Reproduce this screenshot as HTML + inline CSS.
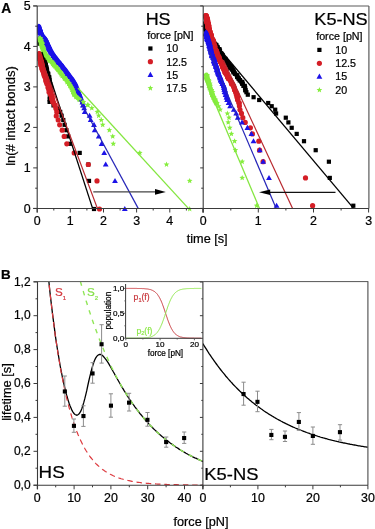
<!DOCTYPE html><html><head><meta charset="utf-8"><title>fig</title><style>html,body{margin:0;padding:0;background:#fff;overflow:hidden}svg{display:block;will-change:transform}text{font-family:"Liberation Sans",sans-serif;stroke:currentColor;stroke-width:0.22px}</style></head><body>
<svg width="375" height="529" viewBox="0 0 375 529">
<rect width="375" height="529" fill="#fff"/>
<defs>
<rect id="sq" x="-2.1" y="-2.1" width="4.2" height="4.2" fill="#000"/>
<circle id="ci" r="2.6" fill="#d41e26"/>
<polygon id="tr" points="0,-3 2.9,2.1 -2.9,2.1" fill="#1c12e8"/>
<polygon id="st" points="0.00,-3.00 0.79,-1.09 2.85,-0.93 1.28,0.42 1.76,2.43 0.00,1.35 -1.76,2.43 -1.28,0.42 -2.85,-0.93 -0.79,-1.09" fill="#86ee3e"/>
<clipPath id="cA1"><rect x="37.2" y="6" width="166" height="202.4"/></clipPath>
<clipPath id="cA2"><rect x="203.2" y="6" width="165" height="202.4"/></clipPath>
<clipPath id="cB1"><rect x="37.3" y="282" width="165.6" height="203.2"/></clipPath>
<clipPath id="cB2"><rect x="202.9" y="282" width="165" height="203.2"/></clipPath>
<clipPath id="cA1d"><rect x="37.2" y="0" width="166" height="212"/></clipPath>
<clipPath id="cA2d"><rect x="203.2" y="0" width="166" height="212"/></clipPath>
</defs>
<g clip-path="url(#cA1d)">
<use href="#sq" x="38.3" y="40.6"/>
<use href="#sq" x="38.2" y="42.2"/>
<use href="#sq" x="38" y="43.6"/>
<use href="#sq" x="40.6" y="54"/>
<use href="#sq" x="41.4" y="54.9"/>
<use href="#sq" x="42.1" y="55.5"/>
<use href="#sq" x="42" y="56.9"/>
<use href="#sq" x="42.8" y="57.5"/>
<use href="#sq" x="44.1" y="58.6"/>
<use href="#sq" x="44.5" y="59.6"/>
<use href="#sq" x="44.7" y="60.4"/>
<use href="#sq" x="44.9" y="61.9"/>
<use href="#sq" x="45.1" y="62.9"/>
<use href="#sq" x="45.5" y="63.6"/>
<use href="#sq" x="45.9" y="65.1"/>
<use href="#sq" x="45.7" y="65.9"/>
<use href="#sq" x="46.5" y="67.4"/>
<use href="#sq" x="46.7" y="68.9"/>
<use href="#sq" x="47" y="70.2"/>
<use href="#sq" x="47" y="71.4"/>
<use href="#sq" x="47.5" y="72.9"/>
<use href="#sq" x="48.3" y="73.8"/>
<use href="#sq" x="48" y="75.3"/>
<use href="#sq" x="49.2" y="77"/>
<use href="#sq" x="49.2" y="78.5"/>
<use href="#sq" x="49.5" y="80.2"/>
<use href="#sq" x="49.7" y="82.1"/>
<use href="#sq" x="50.2" y="84.1"/>
<use href="#sq" x="50.7" y="86"/>
<use href="#sq" x="51.2" y="88"/>
<use href="#sq" x="51.3" y="89.5"/>
<use href="#sq" x="51" y="92.2"/>
<use href="#sq" x="50.5" y="94.3"/>
<use href="#sq" x="49.8" y="96.5"/>
<use href="#sq" x="49.7" y="99.4"/>
<use href="#sq" x="49.6" y="101.9"/>
<use href="#sq" x="53.5" y="105.4"/>
<use href="#sq" x="58.1" y="108.5"/>
<use href="#sq" x="60.2" y="111.9"/>
<use href="#sq" x="61.6" y="115.7"/>
<use href="#sq" x="63.3" y="120"/>
<use href="#sq" x="64.6" y="124.8"/>
<use href="#sq" x="66.4" y="130.2"/>
<use href="#sq" x="68.2" y="136.4"/>
<use href="#sq" x="70.2" y="143.8"/>
<use href="#sq" x="79.7" y="152.9"/>
<use href="#sq" x="88.3" y="164.5"/>
<use href="#sq" x="89" y="180.9"/>
<use href="#sq" x="94" y="209"/>
<polyline points="39.4,53.9 39.6,55.0 40.4,60.0 41.6,65.0 43.0,70.0 44.6,75.0 46.0,80.0 47.8,85.0 49.4,90.0 50.8,95.0 52.4,100.0 53.2,102.1" fill="none" stroke="#d41e26" stroke-width="4.8" stroke-linejoin="round" stroke-linecap="round"/>
<use href="#ci" x="39.2" y="53.7"/>
<use href="#ci" x="39" y="54.1"/>
<use href="#ci" x="40.2" y="54.6"/>
<use href="#ci" x="39.8" y="54.6"/>
<use href="#ci" x="40.1" y="55.6"/>
<use href="#ci" x="40.4" y="56"/>
<use href="#ci" x="39.9" y="57"/>
<use href="#ci" x="39.5" y="56.4"/>
<use href="#ci" x="40.2" y="57.3"/>
<use href="#ci" x="39.5" y="57.6"/>
<use href="#ci" x="40.4" y="58.4"/>
<use href="#ci" x="39.4" y="58.8"/>
<use href="#ci" x="40" y="59.9"/>
<use href="#ci" x="41.1" y="59.5"/>
<use href="#ci" x="40.5" y="60.6"/>
<use href="#ci" x="40.8" y="60.7"/>
<use href="#ci" x="40.9" y="61.7"/>
<use href="#ci" x="41.6" y="61.7"/>
<use href="#ci" x="40.9" y="62.9"/>
<use href="#ci" x="40.6" y="62.6"/>
<use href="#ci" x="42.2" y="63.9"/>
<use href="#ci" x="41.4" y="63.6"/>
<use href="#ci" x="41.4" y="65.1"/>
<use href="#ci" x="40.7" y="65.1"/>
<use href="#ci" x="42.2" y="65.9"/>
<use href="#ci" x="42.2" y="66.2"/>
<use href="#ci" x="42.6" y="67.3"/>
<use href="#ci" x="42.6" y="67.5"/>
<use href="#ci" x="41.8" y="68.4"/>
<use href="#ci" x="42.9" y="68.9"/>
<use href="#ci" x="42.5" y="69.9"/>
<use href="#ci" x="43.1" y="69.8"/>
<use href="#ci" x="43.2" y="71.1"/>
<use href="#ci" x="43.2" y="71.3"/>
<use href="#ci" x="43.5" y="72.6"/>
<use href="#ci" x="44.3" y="72.3"/>
<use href="#ci" x="44.4" y="74.2"/>
<use href="#ci" x="44" y="73.9"/>
<use href="#ci" x="45.3" y="75.4"/>
<use href="#ci" x="44.2" y="75.5"/>
<use href="#ci" x="45.5" y="76.8"/>
<use href="#ci" x="44.9" y="76.9"/>
<use href="#ci" x="46.2" y="78.6"/>
<use href="#ci" x="46.3" y="78.4"/>
<use href="#ci" x="45.8" y="80.4"/>
<use href="#ci" x="46.8" y="80.3"/>
<use href="#ci" x="46.2" y="81.8"/>
<use href="#ci" x="46.8" y="81.8"/>
<use href="#ci" x="47.9" y="84"/>
<use href="#ci" x="46.8" y="83.7"/>
<use href="#ci" x="48.6" y="85.8"/>
<use href="#ci" x="48.6" y="85.6"/>
<use href="#ci" x="48" y="87.5"/>
<use href="#ci" x="49.2" y="87.5"/>
<use href="#ci" x="49" y="89.7"/>
<use href="#ci" x="49.2" y="89.7"/>
<use href="#ci" x="50.7" y="91.7"/>
<use href="#ci" x="49.1" y="92.2"/>
<use href="#ci" x="51.3" y="94.5"/>
<use href="#ci" x="50.5" y="94.5"/>
<use href="#ci" x="52.1" y="96.5"/>
<use href="#ci" x="51.8" y="96.9"/>
<use href="#ci" x="52.5" y="99.3"/>
<use href="#ci" x="51.8" y="99.2"/>
<use href="#ci" x="52.7" y="101.9"/>
<use href="#ci" x="53.3" y="102"/>
<use href="#ci" x="54.8" y="104.8"/>
<use href="#ci" x="55" y="105.2"/>
<use href="#ci" x="55.9" y="108.6"/>
<use href="#ci" x="56.8" y="111.9"/>
<use href="#ci" x="56.3" y="115.9"/>
<use href="#ci" x="58.2" y="120"/>
<use href="#ci" x="59.7" y="124.8"/>
<use href="#ci" x="62.2" y="130.2"/>
<use href="#ci" x="64.2" y="136.4"/>
<use href="#ci" x="66.8" y="143.8"/>
<use href="#ci" x="74.2" y="152.9"/>
<use href="#ci" x="88.3" y="164.5"/>
<use href="#ci" x="97" y="180.9"/>
<use href="#ci" x="99.5" y="209"/>
<polyline points="39.0,26.8 39.8,30.0 41.6,35.0 45.6,40.0 47.8,45.0 50.2,50.0 53.1,55.0 57.0,60.0 61.0,65.0 65.0,70.0 68.6,75.0 72.4,80.0 75.4,85.0 77.4,90.0 79.2,95.0 80.9,99.3" fill="none" stroke="#1c12e8" stroke-width="5.0" stroke-linejoin="round" stroke-linecap="round"/>
<use href="#tr" x="38.4" y="26.6"/>
<use href="#tr" x="39.2" y="26.8"/>
<use href="#tr" x="38.9" y="27.5"/>
<use href="#tr" x="39.3" y="27.1"/>
<use href="#tr" x="38.8" y="27.9"/>
<use href="#tr" x="39.2" y="27.8"/>
<use href="#tr" x="39.1" y="27.9"/>
<use href="#tr" x="39.4" y="28.3"/>
<use href="#tr" x="38.9" y="28.8"/>
<use href="#tr" x="40.1" y="28.8"/>
<use href="#tr" x="40.1" y="28.8"/>
<use href="#tr" x="39.8" y="29.3"/>
<use href="#tr" x="39" y="29.4"/>
<use href="#tr" x="39.3" y="29.6"/>
<use href="#tr" x="39.7" y="30"/>
<use href="#tr" x="40.3" y="29.7"/>
<use href="#tr" x="39.3" y="30.3"/>
<use href="#tr" x="39.4" y="30.3"/>
<use href="#tr" x="40.9" y="31.2"/>
<use href="#tr" x="39.5" y="31"/>
<use href="#tr" x="40.1" y="31.4"/>
<use href="#tr" x="40.1" y="31.6"/>
<use href="#tr" x="40.7" y="32"/>
<use href="#tr" x="40" y="31.9"/>
<use href="#tr" x="40.1" y="32.6"/>
<use href="#tr" x="41.1" y="32.5"/>
<use href="#tr" x="40.2" y="32.9"/>
<use href="#tr" x="40.7" y="33.1"/>
<use href="#tr" x="41.6" y="33.5"/>
<use href="#tr" x="41.6" y="33.7"/>
<use href="#tr" x="41.2" y="34.1"/>
<use href="#tr" x="41.3" y="34.3"/>
<use href="#tr" x="41.4" y="34.8"/>
<use href="#tr" x="41.4" y="34.5"/>
<use href="#tr" x="41.8" y="35.4"/>
<use href="#tr" x="41.1" y="35.2"/>
<use href="#tr" x="42.1" y="36"/>
<use href="#tr" x="42.9" y="35.7"/>
<use href="#tr" x="43.3" y="36.5"/>
<use href="#tr" x="42.3" y="36.3"/>
<use href="#tr" x="42.5" y="37.1"/>
<use href="#tr" x="43.4" y="37.2"/>
<use href="#tr" x="44.1" y="37.6"/>
<use href="#tr" x="44" y="37.6"/>
<use href="#tr" x="43.5" y="38.2"/>
<use href="#tr" x="43.3" y="37.9"/>
<use href="#tr" x="45" y="38.4"/>
<use href="#tr" x="43.9" y="38.5"/>
<use href="#tr" x="45.7" y="39.1"/>
<use href="#tr" x="44.3" y="39.5"/>
<use href="#tr" x="44.9" y="40.1"/>
<use href="#tr" x="45.8" y="40.1"/>
<use href="#tr" x="46.6" y="40.6"/>
<use href="#tr" x="46.3" y="40.3"/>
<use href="#tr" x="46.6" y="41.2"/>
<use href="#tr" x="46.5" y="41"/>
<use href="#tr" x="46.8" y="42.1"/>
<use href="#tr" x="45.7" y="41.7"/>
<use href="#tr" x="46.8" y="42.7"/>
<use href="#tr" x="46.3" y="42.3"/>
<use href="#tr" x="46.6" y="43.2"/>
<use href="#tr" x="47.4" y="43.1"/>
<use href="#tr" x="47.1" y="43.8"/>
<use href="#tr" x="47.1" y="43.8"/>
<use href="#tr" x="46.9" y="44.6"/>
<use href="#tr" x="48.4" y="44.5"/>
<use href="#tr" x="48.3" y="45.1"/>
<use href="#tr" x="48.2" y="45.4"/>
<use href="#tr" x="48.5" y="46"/>
<use href="#tr" x="48.2" y="46.1"/>
<use href="#tr" x="49.3" y="46.5"/>
<use href="#tr" x="48" y="46.9"/>
<use href="#tr" x="49.6" y="47.5"/>
<use href="#tr" x="48.9" y="47.6"/>
<use href="#tr" x="48.8" y="48.1"/>
<use href="#tr" x="48.9" y="48.3"/>
<use href="#tr" x="49.4" y="48.8"/>
<use href="#tr" x="50" y="49.2"/>
<use href="#tr" x="49.8" y="49.9"/>
<use href="#tr" x="49.9" y="50"/>
<use href="#tr" x="50.7" y="50.4"/>
<use href="#tr" x="50.1" y="50.3"/>
<use href="#tr" x="51" y="51.3"/>
<use href="#tr" x="50.5" y="51.3"/>
<use href="#tr" x="51.2" y="52.4"/>
<use href="#tr" x="50.9" y="52.5"/>
<use href="#tr" x="51.9" y="53.1"/>
<use href="#tr" x="51.9" y="53.3"/>
<use href="#tr" x="53" y="54"/>
<use href="#tr" x="52.5" y="54.1"/>
<use href="#tr" x="53.6" y="54.8"/>
<use href="#tr" x="53.4" y="55.1"/>
<use href="#tr" x="53.6" y="55.6"/>
<use href="#tr" x="53.3" y="55.9"/>
<use href="#tr" x="54.7" y="56.9"/>
<use href="#tr" x="55" y="56.5"/>
<use href="#tr" x="54.7" y="57.5"/>
<use href="#tr" x="54.6" y="57.7"/>
<use href="#tr" x="56.5" y="58.8"/>
<use href="#tr" x="55.5" y="58.8"/>
<use href="#tr" x="56.4" y="59.6"/>
<use href="#tr" x="57.1" y="59.4"/>
<use href="#tr" x="56.8" y="60.8"/>
<use href="#tr" x="57.2" y="60.5"/>
<use href="#tr" x="58.5" y="61.8"/>
<use href="#tr" x="57.6" y="61.6"/>
<use href="#tr" x="59.1" y="62.7"/>
<use href="#tr" x="58.7" y="62.8"/>
<use href="#tr" x="60.8" y="63.8"/>
<use href="#tr" x="60.2" y="63.6"/>
<use href="#tr" x="60.6" y="65.1"/>
<use href="#tr" x="60.4" y="65.2"/>
<use href="#tr" x="62.6" y="65.9"/>
<use href="#tr" x="62.7" y="66.1"/>
<use href="#tr" x="63.3" y="67.5"/>
<use href="#tr" x="62.6" y="67.5"/>
<use href="#tr" x="64.2" y="68.8"/>
<use href="#tr" x="63.5" y="68.8"/>
<use href="#tr" x="65.7" y="70"/>
<use href="#tr" x="65" y="69.7"/>
<use href="#tr" x="65.9" y="71.2"/>
<use href="#tr" x="66.3" y="71.4"/>
<use href="#tr" x="67" y="72.4"/>
<use href="#tr" x="67.1" y="72.7"/>
<use href="#tr" x="67.4" y="74.3"/>
<use href="#tr" x="68.2" y="73.8"/>
<use href="#tr" x="69.7" y="75.3"/>
<use href="#tr" x="68.7" y="75.7"/>
<use href="#tr" x="70.3" y="77.1"/>
<use href="#tr" x="70.4" y="77"/>
<use href="#tr" x="71.1" y="78.4"/>
<use href="#tr" x="70.7" y="78.8"/>
<use href="#tr" x="73" y="80.3"/>
<use href="#tr" x="73" y="80.2"/>
<use href="#tr" x="73.2" y="81.9"/>
<use href="#tr" x="74.2" y="81.7"/>
<use href="#tr" x="74.7" y="83.7"/>
<use href="#tr" x="75.1" y="83.7"/>
<use href="#tr" x="75.4" y="85.6"/>
<use href="#tr" x="75.7" y="85.9"/>
<use href="#tr" x="76.2" y="87.9"/>
<use href="#tr" x="75.8" y="87.5"/>
<use href="#tr" x="76.7" y="89.5"/>
<use href="#tr" x="77.7" y="89.9"/>
<use href="#tr" x="77.6" y="91.8"/>
<use href="#tr" x="78" y="92.1"/>
<use href="#tr" x="79.4" y="94.4"/>
<use href="#tr" x="79.1" y="94"/>
<use href="#tr" x="79.7" y="96.5"/>
<use href="#tr" x="79.9" y="96.8"/>
<use href="#tr" x="80.5" y="99.2"/>
<use href="#tr" x="81.4" y="99"/>
<use href="#tr" x="82.4" y="102.4"/>
<use href="#tr" x="82.7" y="102"/>
<use href="#tr" x="83.1" y="105.2"/>
<use href="#tr" x="83.2" y="105.4"/>
<use href="#tr" x="84.2" y="108.2"/>
<use href="#tr" x="84.7" y="111.9"/>
<use href="#tr" x="89.6" y="115.7"/>
<use href="#tr" x="90.7" y="120"/>
<use href="#tr" x="94" y="124.8"/>
<use href="#tr" x="94.7" y="130.2"/>
<use href="#tr" x="98.7" y="136.4"/>
<use href="#tr" x="101.6" y="143.8"/>
<use href="#tr" x="104.2" y="152.9"/>
<use href="#tr" x="105.7" y="164.5"/>
<use href="#tr" x="115" y="180.9"/>
<use href="#tr" x="124.8" y="209"/>
<polyline points="39.7,38.1 40.4,40.0 41.8,45.0 43.4,50.0 45.6,55.0 49.6,60.0 54.0,65.0 58.2,70.0 62.0,75.0 66.2,80.0 70.0,85.0 72.6,90.0 74.6,95.0 77.5,98.0 79.3,99.3" fill="none" stroke="#86ee3e" stroke-width="4.2" stroke-linejoin="round" stroke-linecap="round"/>
<use href="#st" x="40.2" y="38.1"/>
<use href="#st" x="39.8" y="38.2"/>
<use href="#st" x="39.2" y="38.9"/>
<use href="#st" x="40.1" y="38.7"/>
<use href="#st" x="40.2" y="39.3"/>
<use href="#st" x="39.7" y="39.3"/>
<use href="#st" x="39.7" y="39.9"/>
<use href="#st" x="40.6" y="39.9"/>
<use href="#st" x="40.7" y="40.8"/>
<use href="#st" x="41.1" y="40.3"/>
<use href="#st" x="41.1" y="41.3"/>
<use href="#st" x="40.1" y="41.1"/>
<use href="#st" x="40.5" y="41.6"/>
<use href="#st" x="41" y="42.1"/>
<use href="#st" x="40.9" y="42.7"/>
<use href="#st" x="41.4" y="42.3"/>
<use href="#st" x="41.8" y="43.2"/>
<use href="#st" x="41.9" y="43.3"/>
<use href="#st" x="41.8" y="43.8"/>
<use href="#st" x="41.9" y="44.1"/>
<use href="#st" x="42.2" y="44.5"/>
<use href="#st" x="42" y="44.5"/>
<use href="#st" x="41.3" y="45"/>
<use href="#st" x="41.3" y="45.1"/>
<use href="#st" x="41.6" y="46"/>
<use href="#st" x="42.4" y="46"/>
<use href="#st" x="42.2" y="46.8"/>
<use href="#st" x="42.1" y="46.7"/>
<use href="#st" x="42.9" y="47.4"/>
<use href="#st" x="42.1" y="47.7"/>
<use href="#st" x="43.1" y="48.1"/>
<use href="#st" x="42.6" y="48.2"/>
<use href="#st" x="43.2" y="48.8"/>
<use href="#st" x="42.4" y="48.8"/>
<use href="#st" x="43.7" y="49.5"/>
<use href="#st" x="43.3" y="49.6"/>
<use href="#st" x="43.2" y="50.4"/>
<use href="#st" x="43.5" y="50.4"/>
<use href="#st" x="43.3" y="51.1"/>
<use href="#st" x="43.5" y="51.4"/>
<use href="#st" x="43.8" y="51.9"/>
<use href="#st" x="44.3" y="52.2"/>
<use href="#st" x="45" y="52.8"/>
<use href="#st" x="44.6" y="53"/>
<use href="#st" x="44.5" y="54.2"/>
<use href="#st" x="44.7" y="53.7"/>
<use href="#st" x="45.5" y="54.6"/>
<use href="#st" x="45.7" y="54.7"/>
<use href="#st" x="45.7" y="55.5"/>
<use href="#st" x="46.5" y="55.6"/>
<use href="#st" x="47.3" y="56.7"/>
<use href="#st" x="47.5" y="56.6"/>
<use href="#st" x="47.3" y="57.5"/>
<use href="#st" x="48.1" y="57.7"/>
<use href="#st" x="48.3" y="58.4"/>
<use href="#st" x="48.7" y="58.9"/>
<use href="#st" x="49.4" y="59.3"/>
<use href="#st" x="48.6" y="59.4"/>
<use href="#st" x="49.7" y="60.3"/>
<use href="#st" x="49.5" y="60.7"/>
<use href="#st" x="51.6" y="61.5"/>
<use href="#st" x="51.7" y="61.7"/>
<use href="#st" x="52.5" y="63"/>
<use href="#st" x="52.6" y="62.5"/>
<use href="#st" x="52.7" y="63.9"/>
<use href="#st" x="53.6" y="63.6"/>
<use href="#st" x="53.7" y="65.2"/>
<use href="#st" x="53.5" y="64.9"/>
<use href="#st" x="54.8" y="66.3"/>
<use href="#st" x="55.6" y="66"/>
<use href="#st" x="56.3" y="67.5"/>
<use href="#st" x="56.5" y="67.4"/>
<use href="#st" x="57.6" y="68.6"/>
<use href="#st" x="56.9" y="68.5"/>
<use href="#st" x="58.5" y="69.9"/>
<use href="#st" x="57.8" y="69.7"/>
<use href="#st" x="59.5" y="71.3"/>
<use href="#st" x="59.4" y="71.2"/>
<use href="#st" x="60.2" y="72.4"/>
<use href="#st" x="60.5" y="72.3"/>
<use href="#st" x="61.2" y="74.2"/>
<use href="#st" x="61.5" y="73.8"/>
<use href="#st" x="62.1" y="75.7"/>
<use href="#st" x="62.6" y="75.7"/>
<use href="#st" x="64.2" y="77"/>
<use href="#st" x="64.3" y="77.2"/>
<use href="#st" x="64.8" y="78.6"/>
<use href="#st" x="64.5" y="78.6"/>
<use href="#st" x="67.1" y="80.1"/>
<use href="#st" x="66.5" y="80.1"/>
<use href="#st" x="67.1" y="82.1"/>
<use href="#st" x="67.4" y="81.7"/>
<use href="#st" x="68.6" y="83.9"/>
<use href="#st" x="69.2" y="83.5"/>
<use href="#st" x="70" y="86"/>
<use href="#st" x="70" y="85.7"/>
<use href="#st" x="71.3" y="87.8"/>
<use href="#st" x="71.5" y="87.8"/>
<use href="#st" x="72.5" y="89.6"/>
<use href="#st" x="72" y="89.5"/>
<use href="#st" x="73.8" y="91.7"/>
<use href="#st" x="72.7" y="92.2"/>
<use href="#st" x="73.9" y="94.5"/>
<use href="#st" x="73.7" y="94.2"/>
<use href="#st" x="75.9" y="96.9"/>
<use href="#st" x="76.4" y="96.8"/>
<use href="#st" x="79.6" y="99.5"/>
<use href="#st" x="79" y="99.4"/>
<use href="#st" x="83" y="101.9"/>
<use href="#st" x="83.5" y="102.2"/>
<use href="#st" x="88" y="104.9"/>
<use href="#st" x="87.6" y="105.1"/>
<use href="#st" x="91.8" y="108.1"/>
<use href="#st" x="97.3" y="111.9"/>
<use href="#st" x="98.7" y="115.7"/>
<use href="#st" x="101.3" y="120"/>
<use href="#st" x="102.7" y="124.8"/>
<use href="#st" x="109.3" y="130.2"/>
<use href="#st" x="112.7" y="136.4"/>
<use href="#st" x="113.3" y="143.8"/>
<use href="#st" x="139.8" y="152.9"/>
<use href="#st" x="166.5" y="164.5"/>
<use href="#st" x="189.7" y="180.9"/>
<use href="#st" x="189.7" y="209"/>
</g>
<g clip-path="url(#cA1)">
<line x1="41.9" y1="52" x2="92.6" y2="208.4" stroke="#000" stroke-width="1.3"/>
<line x1="39.8" y1="55" x2="97.4" y2="208.4" stroke="#b8282e" stroke-width="1.2"/>
<line x1="79.6" y1="100" x2="138.2" y2="208.4" stroke="#2626b8" stroke-width="1.2"/>
<line x1="78" y1="88" x2="188.4" y2="208.4" stroke="#84e640" stroke-width="1.3"/>
</g>
<line x1="93.3" y1="191.9" x2="156" y2="191.9" stroke="#444" stroke-width="1.1"/>
<polygon points="165.8,191.9 155,189 155,194.8" fill="#000"/>
<g clip-path="url(#cA2d)">
<polyline points="205.2,23.7 206.6,30.0 211.5,40.0 215.5,45.0 219.2,50.0 221.6,55.0 225.2,60.0 232.4,70.0 240.0,80.0 241.4,81.9" fill="none" stroke="#000" stroke-width="4.4" stroke-linejoin="round" stroke-linecap="round"/>
<use href="#sq" x="204.9" y="23.7"/>
<use href="#sq" x="204.4" y="23.8"/>
<use href="#sq" x="205.7" y="24.1"/>
<use href="#sq" x="205.6" y="24.2"/>
<use href="#sq" x="204.9" y="24.5"/>
<use href="#sq" x="206.3" y="24.5"/>
<use href="#sq" x="205.4" y="24.8"/>
<use href="#sq" x="205" y="24.8"/>
<use href="#sq" x="206.4" y="25.6"/>
<use href="#sq" x="206.3" y="25.8"/>
<use href="#sq" x="205.9" y="26.2"/>
<use href="#sq" x="205.7" y="25.9"/>
<use href="#sq" x="206.6" y="26.6"/>
<use href="#sq" x="206.6" y="26.4"/>
<use href="#sq" x="206.4" y="26.8"/>
<use href="#sq" x="206.8" y="27.1"/>
<use href="#sq" x="205.6" y="27.6"/>
<use href="#sq" x="205.4" y="27.1"/>
<use href="#sq" x="206.5" y="27.6"/>
<use href="#sq" x="206.1" y="27.9"/>
<use href="#sq" x="205.4" y="28.4"/>
<use href="#sq" x="205.8" y="28.2"/>
<use href="#sq" x="206" y="28.9"/>
<use href="#sq" x="206.8" y="28.6"/>
<use href="#sq" x="205.7" y="29.1"/>
<use href="#sq" x="206.3" y="29"/>
<use href="#sq" x="205.9" y="29.9"/>
<use href="#sq" x="206.9" y="30"/>
<use href="#sq" x="207.6" y="30.4"/>
<use href="#sq" x="206.5" y="30"/>
<use href="#sq" x="206.6" y="30.7"/>
<use href="#sq" x="207" y="30.7"/>
<use href="#sq" x="206.9" y="31.4"/>
<use href="#sq" x="206.8" y="31.2"/>
<use href="#sq" x="208.1" y="31.9"/>
<use href="#sq" x="207.1" y="31.6"/>
<use href="#sq" x="208.3" y="32"/>
<use href="#sq" x="207" y="32.3"/>
<use href="#sq" x="208" y="32.6"/>
<use href="#sq" x="207.2" y="32.6"/>
<use href="#sq" x="208.7" y="33.3"/>
<use href="#sq" x="209.1" y="33.5"/>
<use href="#sq" x="209.4" y="33.6"/>
<use href="#sq" x="207.9" y="33.6"/>
<use href="#sq" x="208.6" y="34.3"/>
<use href="#sq" x="208" y="34.4"/>
<use href="#sq" x="208.3" y="34.9"/>
<use href="#sq" x="208.6" y="35.2"/>
<use href="#sq" x="209.2" y="35.4"/>
<use href="#sq" x="208.5" y="35.5"/>
<use href="#sq" x="209.8" y="36.2"/>
<use href="#sq" x="210.3" y="36.3"/>
<use href="#sq" x="209.4" y="36.5"/>
<use href="#sq" x="210.4" y="36.9"/>
<use href="#sq" x="210.2" y="37.5"/>
<use href="#sq" x="210.3" y="37.2"/>
<use href="#sq" x="209.9" y="37.6"/>
<use href="#sq" x="210.7" y="38.1"/>
<use href="#sq" x="211.5" y="38.5"/>
<use href="#sq" x="211.1" y="38.8"/>
<use href="#sq" x="211.6" y="39.2"/>
<use href="#sq" x="210.9" y="39.1"/>
<use href="#sq" x="210.8" y="39.6"/>
<use href="#sq" x="211.7" y="40.1"/>
<use href="#sq" x="211.9" y="40.4"/>
<use href="#sq" x="211.6" y="40.4"/>
<use href="#sq" x="212.9" y="41"/>
<use href="#sq" x="213.2" y="40.9"/>
<use href="#sq" x="212.5" y="41.7"/>
<use href="#sq" x="212.7" y="41.9"/>
<use href="#sq" x="214" y="42.7"/>
<use href="#sq" x="213.6" y="42.1"/>
<use href="#sq" x="214.1" y="43.1"/>
<use href="#sq" x="213.9" y="42.9"/>
<use href="#sq" x="214.9" y="44"/>
<use href="#sq" x="213.8" y="43.9"/>
<use href="#sq" x="214.9" y="44.5"/>
<use href="#sq" x="215.8" y="44.8"/>
<use href="#sq" x="215.9" y="45"/>
<use href="#sq" x="216.4" y="45"/>
<use href="#sq" x="216" y="46.1"/>
<use href="#sq" x="215.9" y="45.8"/>
<use href="#sq" x="217.6" y="47"/>
<use href="#sq" x="216.4" y="46.6"/>
<use href="#sq" x="216.9" y="47.2"/>
<use href="#sq" x="216.9" y="47.7"/>
<use href="#sq" x="217.1" y="48.1"/>
<use href="#sq" x="217.4" y="48"/>
<use href="#sq" x="218.5" y="49.2"/>
<use href="#sq" x="219.1" y="49.1"/>
<use href="#sq" x="219.6" y="49.5"/>
<use href="#sq" x="218.7" y="50.1"/>
<use href="#sq" x="218.7" y="50.5"/>
<use href="#sq" x="219.5" y="50.5"/>
<use href="#sq" x="220" y="51.2"/>
<use href="#sq" x="219.4" y="51.8"/>
<use href="#sq" x="219.7" y="52.6"/>
<use href="#sq" x="219.8" y="52.7"/>
<use href="#sq" x="221.1" y="53.3"/>
<use href="#sq" x="220.1" y="53"/>
<use href="#sq" x="221.7" y="53.9"/>
<use href="#sq" x="220.6" y="54.3"/>
<use href="#sq" x="222.3" y="54.8"/>
<use href="#sq" x="222.5" y="55.1"/>
<use href="#sq" x="222.1" y="55.8"/>
<use href="#sq" x="222.1" y="56.3"/>
<use href="#sq" x="222.6" y="56.8"/>
<use href="#sq" x="222.4" y="56.7"/>
<use href="#sq" x="223.5" y="58.2"/>
<use href="#sq" x="223" y="57.8"/>
<use href="#sq" x="225.3" y="59.3"/>
<use href="#sq" x="225.3" y="58.8"/>
<use href="#sq" x="224.9" y="60.3"/>
<use href="#sq" x="225.2" y="60.1"/>
<use href="#sq" x="225.6" y="60.8"/>
<use href="#sq" x="225.7" y="61.2"/>
<use href="#sq" x="227.3" y="62.2"/>
<use href="#sq" x="226.7" y="62.2"/>
<use href="#sq" x="227.5" y="63.3"/>
<use href="#sq" x="228.2" y="63.1"/>
<use href="#sq" x="228.6" y="64.7"/>
<use href="#sq" x="229" y="64.3"/>
<use href="#sq" x="230.1" y="65.9"/>
<use href="#sq" x="228.7" y="65.5"/>
<use href="#sq" x="229.6" y="66.6"/>
<use href="#sq" x="231" y="66.8"/>
<use href="#sq" x="231.8" y="67.9"/>
<use href="#sq" x="230.2" y="68.4"/>
<use href="#sq" x="232.6" y="69.8"/>
<use href="#sq" x="232.4" y="69.5"/>
<use href="#sq" x="233.5" y="70.6"/>
<use href="#sq" x="233.1" y="70.8"/>
<use href="#sq" x="233.5" y="72.3"/>
<use href="#sq" x="233.8" y="72.2"/>
<use href="#sq" x="235" y="73.6"/>
<use href="#sq" x="235" y="73.8"/>
<use href="#sq" x="237.2" y="75.5"/>
<use href="#sq" x="237" y="75.4"/>
<use href="#sq" x="237.2" y="77.1"/>
<use href="#sq" x="237.1" y="76.6"/>
<use href="#sq" x="238.8" y="78.6"/>
<use href="#sq" x="238.5" y="78.5"/>
<use href="#sq" x="239.7" y="80.4"/>
<use href="#sq" x="240" y="80.1"/>
<use href="#sq" x="241.5" y="82.1"/>
<use href="#sq" x="242.3" y="81.9"/>
<use href="#sq" x="242.8" y="83.8"/>
<use href="#sq" x="242.1" y="83.7"/>
<use href="#sq" x="244.8" y="85.9"/>
<use href="#sq" x="243.4" y="85.9"/>
<use href="#sq" x="245.1" y="88.1"/>
<use href="#sq" x="245" y="87.6"/>
<use href="#sq" x="245.5" y="90.2"/>
<use href="#sq" x="245.3" y="90.2"/>
<use href="#sq" x="246.4" y="92.2"/>
<use href="#sq" x="247.8" y="94.7"/>
<use href="#sq" x="253.6" y="97.2"/>
<use href="#sq" x="259.2" y="100"/>
<use href="#sq" x="268.2" y="103"/>
<use href="#sq" x="271.7" y="106.2"/>
<use href="#sq" x="275.2" y="109.7"/>
<use href="#sq" x="276.1" y="113.5"/>
<use href="#sq" x="285.8" y="117.7"/>
<use href="#sq" x="288.4" y="122.4"/>
<use href="#sq" x="291.7" y="127.8"/>
<use href="#sq" x="296.7" y="133.9"/>
<use href="#sq" x="304" y="141.2"/>
<use href="#sq" x="315.7" y="150.2"/>
<use href="#sq" x="328.9" y="161.7"/>
<use href="#sq" x="329.8" y="177.9"/>
<use href="#sq" x="353.3" y="205.7"/>
<polyline points="205.9,15.7 206.2,17.0 207.5,22.0 208.4,27.0 209.6,32.0 211.3,37.0 213.0,42.0 214.7,47.0 216.3,52.0 218.2,57.0 220.8,62.0 223.0,67.0 225.5,72.0 228.2,77.0 231.0,82.0 233.8,87.0 235.8,92.0 237.4,97.0 238.1,100.0" fill="none" stroke="#d41e26" stroke-width="4.4" stroke-linejoin="round" stroke-linecap="round"/>
<use href="#ci" x="206.2" y="15.6"/>
<use href="#ci" x="205.7" y="15.7"/>
<use href="#ci" x="205.9" y="15.9"/>
<use href="#ci" x="206.2" y="16.2"/>
<use href="#ci" x="206.2" y="16.2"/>
<use href="#ci" x="205.7" y="16.3"/>
<use href="#ci" x="206.3" y="16.5"/>
<use href="#ci" x="205.6" y="16.6"/>
<use href="#ci" x="206" y="16.8"/>
<use href="#ci" x="206.3" y="17.3"/>
<use href="#ci" x="206.4" y="17.6"/>
<use href="#ci" x="206.7" y="17.6"/>
<use href="#ci" x="206.9" y="17.8"/>
<use href="#ci" x="206.6" y="17.6"/>
<use href="#ci" x="207" y="18.1"/>
<use href="#ci" x="206.5" y="18.4"/>
<use href="#ci" x="206.3" y="18.4"/>
<use href="#ci" x="207" y="18.6"/>
<use href="#ci" x="206.2" y="18.6"/>
<use href="#ci" x="206.5" y="18.6"/>
<use href="#ci" x="207.2" y="19.1"/>
<use href="#ci" x="206.5" y="19.2"/>
<use href="#ci" x="206.9" y="19.7"/>
<use href="#ci" x="207.1" y="19.8"/>
<use href="#ci" x="206.9" y="19.8"/>
<use href="#ci" x="207.6" y="20.2"/>
<use href="#ci" x="206.6" y="20.4"/>
<use href="#ci" x="207.4" y="20.8"/>
<use href="#ci" x="206.7" y="20.6"/>
<use href="#ci" x="207.2" y="20.8"/>
<use href="#ci" x="207.8" y="21.5"/>
<use href="#ci" x="207.1" y="21.2"/>
<use href="#ci" x="207.5" y="21.9"/>
<use href="#ci" x="207.1" y="21.6"/>
<use href="#ci" x="207" y="22.2"/>
<use href="#ci" x="206.9" y="22.3"/>
<use href="#ci" x="207.6" y="22.5"/>
<use href="#ci" x="207.1" y="22.3"/>
<use href="#ci" x="207.6" y="23.1"/>
<use href="#ci" x="207.7" y="22.8"/>
<use href="#ci" x="208.3" y="23.4"/>
<use href="#ci" x="207.8" y="23.1"/>
<use href="#ci" x="207.6" y="24"/>
<use href="#ci" x="207.4" y="23.8"/>
<use href="#ci" x="208" y="24.1"/>
<use href="#ci" x="208.2" y="24.4"/>
<use href="#ci" x="208.4" y="24.7"/>
<use href="#ci" x="207.6" y="24.3"/>
<use href="#ci" x="208" y="24.9"/>
<use href="#ci" x="207.7" y="25.3"/>
<use href="#ci" x="207.8" y="25.7"/>
<use href="#ci" x="208.7" y="25.3"/>
<use href="#ci" x="208.7" y="25.9"/>
<use href="#ci" x="207.9" y="25.7"/>
<use href="#ci" x="207.7" y="26.4"/>
<use href="#ci" x="208.2" y="26.6"/>
<use href="#ci" x="208.8" y="26.6"/>
<use href="#ci" x="208.3" y="26.8"/>
<use href="#ci" x="208.1" y="27.2"/>
<use href="#ci" x="208.2" y="27.4"/>
<use href="#ci" x="208.4" y="27.5"/>
<use href="#ci" x="208.2" y="27.7"/>
<use href="#ci" x="208.8" y="28.1"/>
<use href="#ci" x="208.9" y="28.1"/>
<use href="#ci" x="209" y="28.8"/>
<use href="#ci" x="208.4" y="28.9"/>
<use href="#ci" x="208.8" y="29.2"/>
<use href="#ci" x="209" y="29.3"/>
<use href="#ci" x="209" y="29.4"/>
<use href="#ci" x="209.4" y="29.9"/>
<use href="#ci" x="209.2" y="30.2"/>
<use href="#ci" x="208.9" y="30.4"/>
<use href="#ci" x="209.5" y="30.5"/>
<use href="#ci" x="209.7" y="31"/>
<use href="#ci" x="209.2" y="31.5"/>
<use href="#ci" x="209.4" y="31"/>
<use href="#ci" x="209.8" y="31.6"/>
<use href="#ci" x="209.8" y="31.8"/>
<use href="#ci" x="209.2" y="32.3"/>
<use href="#ci" x="210.1" y="32.2"/>
<use href="#ci" x="209.9" y="33"/>
<use href="#ci" x="209.8" y="32.8"/>
<use href="#ci" x="210.1" y="33.5"/>
<use href="#ci" x="209.7" y="33.1"/>
<use href="#ci" x="210.5" y="33.9"/>
<use href="#ci" x="210" y="34.1"/>
<use href="#ci" x="210.9" y="34.4"/>
<use href="#ci" x="211" y="34.6"/>
<use href="#ci" x="210.9" y="34.9"/>
<use href="#ci" x="210" y="35.1"/>
<use href="#ci" x="211.1" y="35.5"/>
<use href="#ci" x="210.8" y="35.6"/>
<use href="#ci" x="210.7" y="36.2"/>
<use href="#ci" x="211.1" y="36.1"/>
<use href="#ci" x="210.7" y="36.7"/>
<use href="#ci" x="211" y="36.8"/>
<use href="#ci" x="211" y="37.2"/>
<use href="#ci" x="211" y="37.2"/>
<use href="#ci" x="211.7" y="37.7"/>
<use href="#ci" x="211.1" y="37.9"/>
<use href="#ci" x="211.5" y="38.5"/>
<use href="#ci" x="211.4" y="38.3"/>
<use href="#ci" x="212.1" y="39.4"/>
<use href="#ci" x="212.5" y="39.1"/>
<use href="#ci" x="212.1" y="39.5"/>
<use href="#ci" x="212" y="39.7"/>
<use href="#ci" x="213" y="40.2"/>
<use href="#ci" x="213" y="40.4"/>
<use href="#ci" x="212.6" y="40.9"/>
<use href="#ci" x="213.2" y="40.9"/>
<use href="#ci" x="213" y="41.7"/>
<use href="#ci" x="212.5" y="41.6"/>
<use href="#ci" x="213.7" y="42.6"/>
<use href="#ci" x="213.4" y="42.6"/>
<use href="#ci" x="212.9" y="43.2"/>
<use href="#ci" x="213.7" y="42.9"/>
<use href="#ci" x="213.6" y="44.1"/>
<use href="#ci" x="213.4" y="43.9"/>
<use href="#ci" x="213.4" y="44.6"/>
<use href="#ci" x="213.6" y="44.5"/>
<use href="#ci" x="213.9" y="45.4"/>
<use href="#ci" x="214.4" y="45.2"/>
<use href="#ci" x="214.6" y="45.9"/>
<use href="#ci" x="214.7" y="45.8"/>
<use href="#ci" x="214.6" y="46.7"/>
<use href="#ci" x="214.5" y="46.4"/>
<use href="#ci" x="214.4" y="47.5"/>
<use href="#ci" x="214.5" y="47.6"/>
<use href="#ci" x="215.1" y="48.5"/>
<use href="#ci" x="215.5" y="48.4"/>
<use href="#ci" x="215.2" y="48.7"/>
<use href="#ci" x="215.4" y="49.2"/>
<use href="#ci" x="216.1" y="49.7"/>
<use href="#ci" x="215.2" y="50.1"/>
<use href="#ci" x="216.2" y="50.6"/>
<use href="#ci" x="216.2" y="50.4"/>
<use href="#ci" x="216.2" y="51.6"/>
<use href="#ci" x="216.3" y="51.3"/>
<use href="#ci" x="216" y="52.4"/>
<use href="#ci" x="216.9" y="52.1"/>
<use href="#ci" x="216.2" y="53"/>
<use href="#ci" x="217.1" y="53.2"/>
<use href="#ci" x="217.1" y="54.4"/>
<use href="#ci" x="217.2" y="54"/>
<use href="#ci" x="217.7" y="54.8"/>
<use href="#ci" x="217.2" y="55.2"/>
<use href="#ci" x="217.4" y="55.7"/>
<use href="#ci" x="217.8" y="55.9"/>
<use href="#ci" x="218.8" y="56.7"/>
<use href="#ci" x="218.6" y="56.9"/>
<use href="#ci" x="219.1" y="57.9"/>
<use href="#ci" x="218.9" y="57.9"/>
<use href="#ci" x="218.9" y="58.9"/>
<use href="#ci" x="219.6" y="58.9"/>
<use href="#ci" x="219.4" y="60"/>
<use href="#ci" x="219.3" y="59.9"/>
<use href="#ci" x="220.4" y="61.1"/>
<use href="#ci" x="220.4" y="61"/>
<use href="#ci" x="220.3" y="61.9"/>
<use href="#ci" x="220.7" y="62"/>
<use href="#ci" x="221.5" y="63.2"/>
<use href="#ci" x="221.7" y="63.4"/>
<use href="#ci" x="222.1" y="64.6"/>
<use href="#ci" x="221.9" y="64.4"/>
<use href="#ci" x="222.2" y="65.4"/>
<use href="#ci" x="222.8" y="65.7"/>
<use href="#ci" x="222.5" y="67.2"/>
<use href="#ci" x="223.1" y="67"/>
<use href="#ci" x="223.5" y="67.9"/>
<use href="#ci" x="224.2" y="68"/>
<use href="#ci" x="224.1" y="69.8"/>
<use href="#ci" x="223.8" y="69.5"/>
<use href="#ci" x="224.9" y="70.7"/>
<use href="#ci" x="225.4" y="70.8"/>
<use href="#ci" x="225" y="72.2"/>
<use href="#ci" x="225" y="72.4"/>
<use href="#ci" x="226.9" y="73.9"/>
<use href="#ci" x="225.9" y="73.8"/>
<use href="#ci" x="227" y="75.2"/>
<use href="#ci" x="227" y="75.1"/>
<use href="#ci" x="227.6" y="76.9"/>
<use href="#ci" x="227.6" y="77.1"/>
<use href="#ci" x="228.4" y="78.7"/>
<use href="#ci" x="228.6" y="78.2"/>
<use href="#ci" x="230.2" y="80.1"/>
<use href="#ci" x="230.3" y="80.1"/>
<use href="#ci" x="231.1" y="81.7"/>
<use href="#ci" x="231.2" y="81.9"/>
<use href="#ci" x="232.5" y="83.5"/>
<use href="#ci" x="231.5" y="83.9"/>
<use href="#ci" x="233.6" y="85.7"/>
<use href="#ci" x="233.3" y="85.8"/>
<use href="#ci" x="234" y="87.8"/>
<use href="#ci" x="234.2" y="87.5"/>
<use href="#ci" x="234.7" y="90.1"/>
<use href="#ci" x="234.7" y="89.9"/>
<use href="#ci" x="235.6" y="92.1"/>
<use href="#ci" x="236.1" y="92.4"/>
<use href="#ci" x="237.2" y="94.6"/>
<use href="#ci" x="236.3" y="94.6"/>
<use href="#ci" x="236.9" y="97.1"/>
<use href="#ci" x="237.6" y="97.3"/>
<use href="#ci" x="237.8" y="99.8"/>
<use href="#ci" x="237.6" y="99.8"/>
<use href="#ci" x="238.8" y="102.8"/>
<use href="#ci" x="239.3" y="103"/>
<use href="#ci" x="239.4" y="106.1"/>
<use href="#ci" x="240" y="109.8"/>
<use href="#ci" x="241.5" y="113.4"/>
<use href="#ci" x="242.8" y="117.7"/>
<use href="#ci" x="245.2" y="122.4"/>
<use href="#ci" x="250.4" y="127.8"/>
<use href="#ci" x="252.4" y="133.9"/>
<use href="#ci" x="258.8" y="141.2"/>
<use href="#ci" x="259.6" y="150.2"/>
<use href="#ci" x="263.1" y="161.7"/>
<use href="#ci" x="305.5" y="177.9"/>
<use href="#ci" x="312.6" y="205.7"/>
<polyline points="206.1,32.8 207.2,37.0 208.8,42.0 210.2,47.0 211.4,52.0 213.0,57.0 216.3,67.0 219.7,77.0 223.7,87.0 226.7,97.0 227.8,100.0" fill="none" stroke="#1c12e8" stroke-width="4.4" stroke-linejoin="round" stroke-linecap="round"/>
<use href="#tr" x="206.5" y="32.6"/>
<use href="#tr" x="205.8" y="32.6"/>
<use href="#tr" x="205.9" y="33.4"/>
<use href="#tr" x="206.5" y="33.5"/>
<use href="#tr" x="205.9" y="34"/>
<use href="#tr" x="206.4" y="33.8"/>
<use href="#tr" x="206.6" y="34.4"/>
<use href="#tr" x="206.1" y="34.4"/>
<use href="#tr" x="206.9" y="35.1"/>
<use href="#tr" x="207.3" y="34.8"/>
<use href="#tr" x="207.4" y="35.7"/>
<use href="#tr" x="207.1" y="35.8"/>
<use href="#tr" x="206.5" y="36.3"/>
<use href="#tr" x="207.5" y="35.9"/>
<use href="#tr" x="207.3" y="37"/>
<use href="#tr" x="206.8" y="36.9"/>
<use href="#tr" x="207.9" y="37.3"/>
<use href="#tr" x="206.8" y="37.1"/>
<use href="#tr" x="208" y="37.9"/>
<use href="#tr" x="207.2" y="37.9"/>
<use href="#tr" x="208.3" y="38.4"/>
<use href="#tr" x="207" y="38.8"/>
<use href="#tr" x="207.6" y="39.1"/>
<use href="#tr" x="208.5" y="39"/>
<use href="#tr" x="207.5" y="40"/>
<use href="#tr" x="207.7" y="39.6"/>
<use href="#tr" x="208.9" y="40.2"/>
<use href="#tr" x="208.9" y="40.3"/>
<use href="#tr" x="208.2" y="40.9"/>
<use href="#tr" x="208.6" y="41.1"/>
<use href="#tr" x="208.6" y="41.7"/>
<use href="#tr" x="208.4" y="41.9"/>
<use href="#tr" x="209.5" y="42.5"/>
<use href="#tr" x="209.4" y="42.1"/>
<use href="#tr" x="208.8" y="42.9"/>
<use href="#tr" x="208.6" y="43.4"/>
<use href="#tr" x="209.9" y="44"/>
<use href="#tr" x="209.4" y="43.5"/>
<use href="#tr" x="209.4" y="44.2"/>
<use href="#tr" x="210.1" y="44.3"/>
<use href="#tr" x="209.4" y="45.5"/>
<use href="#tr" x="209.3" y="45.5"/>
<use href="#tr" x="209.6" y="46"/>
<use href="#tr" x="209.4" y="46.2"/>
<use href="#tr" x="210" y="46.6"/>
<use href="#tr" x="210.3" y="46.7"/>
<use href="#tr" x="210" y="47.2"/>
<use href="#tr" x="210.4" y="47.2"/>
<use href="#tr" x="211" y="48.1"/>
<use href="#tr" x="210" y="48.1"/>
<use href="#tr" x="210.1" y="48.9"/>
<use href="#tr" x="210.7" y="49"/>
<use href="#tr" x="210.6" y="49.7"/>
<use href="#tr" x="210.9" y="50"/>
<use href="#tr" x="211" y="50.8"/>
<use href="#tr" x="211.1" y="50.4"/>
<use href="#tr" x="210.8" y="51.7"/>
<use href="#tr" x="211.3" y="51.4"/>
<use href="#tr" x="211.5" y="52.6"/>
<use href="#tr" x="211.3" y="52.3"/>
<use href="#tr" x="211.6" y="52.9"/>
<use href="#tr" x="211.9" y="53.2"/>
<use href="#tr" x="212.1" y="54.1"/>
<use href="#tr" x="212" y="54.3"/>
<use href="#tr" x="211.9" y="55.4"/>
<use href="#tr" x="211.8" y="55.3"/>
<use href="#tr" x="212.2" y="56.2"/>
<use href="#tr" x="212.3" y="55.8"/>
<use href="#tr" x="213" y="57.2"/>
<use href="#tr" x="213.5" y="57.2"/>
<use href="#tr" x="214" y="57.7"/>
<use href="#tr" x="213.1" y="57.7"/>
<use href="#tr" x="214" y="58.9"/>
<use href="#tr" x="214" y="59.2"/>
<use href="#tr" x="214.7" y="60.1"/>
<use href="#tr" x="214.5" y="60"/>
<use href="#tr" x="213.8" y="61.3"/>
<use href="#tr" x="213.8" y="60.8"/>
<use href="#tr" x="215.2" y="62"/>
<use href="#tr" x="214.9" y="61.9"/>
<use href="#tr" x="214.7" y="63.4"/>
<use href="#tr" x="214.4" y="63.3"/>
<use href="#tr" x="216.1" y="64.3"/>
<use href="#tr" x="215.8" y="64.6"/>
<use href="#tr" x="216" y="65.8"/>
<use href="#tr" x="216.1" y="65.4"/>
<use href="#tr" x="215.8" y="66.9"/>
<use href="#tr" x="216.9" y="66.7"/>
<use href="#tr" x="216.8" y="67.9"/>
<use href="#tr" x="217.2" y="68.1"/>
<use href="#tr" x="217.2" y="69.6"/>
<use href="#tr" x="216.6" y="69.6"/>
<use href="#tr" x="218" y="71.1"/>
<use href="#tr" x="217.3" y="70.7"/>
<use href="#tr" x="217.6" y="72.5"/>
<use href="#tr" x="218" y="72.2"/>
<use href="#tr" x="218.6" y="73.8"/>
<use href="#tr" x="218.3" y="73.6"/>
<use href="#tr" x="219.5" y="75.4"/>
<use href="#tr" x="218.8" y="75"/>
<use href="#tr" x="220.2" y="76.9"/>
<use href="#tr" x="219.8" y="76.7"/>
<use href="#tr" x="220.9" y="78.4"/>
<use href="#tr" x="219.9" y="78.2"/>
<use href="#tr" x="220.7" y="80.2"/>
<use href="#tr" x="220.8" y="80.4"/>
<use href="#tr" x="221.9" y="81.9"/>
<use href="#tr" x="221.9" y="82"/>
<use href="#tr" x="222.6" y="83.8"/>
<use href="#tr" x="222.4" y="83.8"/>
<use href="#tr" x="223.7" y="85.5"/>
<use href="#tr" x="223.6" y="85.6"/>
<use href="#tr" x="224.4" y="87.5"/>
<use href="#tr" x="223.9" y="87.7"/>
<use href="#tr" x="224.9" y="89.8"/>
<use href="#tr" x="224.2" y="89.7"/>
<use href="#tr" x="225.4" y="92.3"/>
<use href="#tr" x="224.6" y="92"/>
<use href="#tr" x="225.6" y="94.9"/>
<use href="#tr" x="225.9" y="94.7"/>
<use href="#tr" x="226.5" y="97.3"/>
<use href="#tr" x="227.2" y="97.3"/>
<use href="#tr" x="227.1" y="100"/>
<use href="#tr" x="227.8" y="99.7"/>
<use href="#tr" x="229.3" y="102.9"/>
<use href="#tr" x="228.6" y="103"/>
<use href="#tr" x="230.1" y="106.2"/>
<use href="#tr" x="233.8" y="109.7"/>
<use href="#tr" x="236.2" y="113.5"/>
<use href="#tr" x="237.8" y="117.7"/>
<use href="#tr" x="242" y="122.4"/>
<use href="#tr" x="247.4" y="127.8"/>
<use href="#tr" x="251.4" y="133.9"/>
<use href="#tr" x="253.5" y="141.2"/>
<use href="#tr" x="259.8" y="150.2"/>
<use href="#tr" x="263.2" y="161.7"/>
<use href="#tr" x="269" y="177.9"/>
<use href="#tr" x="276.6" y="205.7"/>
<polyline points="206.4,75.2 207.0,77.0 209.8,87.0 213.3,97.0 216.2,103.0" fill="none" stroke="#86ee3e" stroke-width="5.0" stroke-linejoin="round" stroke-linecap="round"/>
<use href="#st" x="207.2" y="75.2"/>
<use href="#st" x="206.1" y="75"/>
<use href="#st" x="207" y="76.7"/>
<use href="#st" x="207" y="76.7"/>
<use href="#st" x="206.4" y="78.1"/>
<use href="#st" x="206.7" y="78.2"/>
<use href="#st" x="208.6" y="80.2"/>
<use href="#st" x="207.4" y="80.2"/>
<use href="#st" x="208.6" y="81.6"/>
<use href="#st" x="208.9" y="81.7"/>
<use href="#st" x="209.9" y="83.6"/>
<use href="#st" x="208.5" y="83.6"/>
<use href="#st" x="210.2" y="85.9"/>
<use href="#st" x="209.6" y="85.5"/>
<use href="#st" x="209.9" y="87.9"/>
<use href="#st" x="209.2" y="88"/>
<use href="#st" x="211.5" y="90.2"/>
<use href="#st" x="211.2" y="90"/>
<use href="#st" x="212.6" y="92.1"/>
<use href="#st" x="211.2" y="92"/>
<use href="#st" x="211.8" y="94.8"/>
<use href="#st" x="211.7" y="94.8"/>
<use href="#st" x="213.2" y="97.5"/>
<use href="#st" x="213.9" y="97.4"/>
<use href="#st" x="215.5" y="99.7"/>
<use href="#st" x="214.3" y="99.9"/>
<use href="#st" x="216.1" y="103.1"/>
<use href="#st" x="217" y="103.1"/>
<use href="#st" x="218.6" y="106.3"/>
<use href="#st" x="220.2" y="109.7"/>
<use href="#st" x="227.4" y="113.5"/>
<use href="#st" x="229" y="117.7"/>
<use href="#st" x="228.2" y="122.4"/>
<use href="#st" x="229.8" y="127.8"/>
<use href="#st" x="231.4" y="133.9"/>
<use href="#st" x="234.6" y="141.2"/>
<use href="#st" x="235.4" y="150.2"/>
<use href="#st" x="242.2" y="161.7"/>
<use href="#st" x="242.2" y="177.9"/>
<use href="#st" x="256.6" y="205.7"/>
</g>
<g clip-path="url(#cA2)">
<line x1="217.9" y1="47" x2="353.6" y2="208.4" stroke="#000" stroke-width="1.3"/>
<line x1="223.4" y1="60" x2="292.6" y2="208.4" stroke="#b8282e" stroke-width="1.2"/>
<line x1="208.6" y1="50" x2="276.2" y2="208.4" stroke="#2626b8" stroke-width="1.2"/>
<line x1="204.4" y1="78" x2="259.5" y2="208.4" stroke="#84e640" stroke-width="1.3"/>
</g>
<line x1="335.5" y1="192.3" x2="269" y2="192.3" stroke="#111" stroke-width="1.2"/>
<polygon points="259,192.3 270.2,189.6 270.2,195" fill="#000"/>
<line x1="33.2" y1="6" x2="368.9" y2="6" stroke="#5a5a5a" stroke-width="1.2"/>
<line x1="368.9" y1="6" x2="368.9" y2="208.5" stroke="#5a5a5a" stroke-width="1.2"/>
<line x1="37.2" y1="6" x2="37.2" y2="212.5" stroke="#3a3a3a" stroke-width="1.1"/>
<line x1="203.2" y1="6" x2="203.2" y2="212.5" stroke="#3a3a3a" stroke-width="1.1"/>
<line x1="33.2" y1="208.5" x2="368.9" y2="208.5" stroke="#3a3a3a" stroke-width="1.1"/>
<line x1="33.2" y1="208.4" x2="37.2" y2="208.4" stroke="#3a3a3a" stroke-width="1"/>
<line x1="200.2" y1="208.4" x2="203.2" y2="208.4" stroke="#3a3a3a" stroke-width="1"/>
<text x="30.6" y="212.7" font-size="12.4" text-anchor="end" fill="#000" color="#000">0</text>
<line x1="35.2" y1="188.2" x2="37.2" y2="188.2" stroke="#3a3a3a" stroke-width="1"/>
<line x1="201.2" y1="188.2" x2="203.2" y2="188.2" stroke="#3a3a3a" stroke-width="1"/>
<line x1="33.2" y1="167.9" x2="37.2" y2="167.9" stroke="#3a3a3a" stroke-width="1"/>
<line x1="200.2" y1="167.9" x2="203.2" y2="167.9" stroke="#3a3a3a" stroke-width="1"/>
<text x="30.6" y="172.2" font-size="12.4" text-anchor="end" fill="#000" color="#000">1</text>
<line x1="35.2" y1="147.7" x2="37.2" y2="147.7" stroke="#3a3a3a" stroke-width="1"/>
<line x1="201.2" y1="147.7" x2="203.2" y2="147.7" stroke="#3a3a3a" stroke-width="1"/>
<line x1="33.2" y1="127.4" x2="37.2" y2="127.4" stroke="#3a3a3a" stroke-width="1"/>
<line x1="200.2" y1="127.4" x2="203.2" y2="127.4" stroke="#3a3a3a" stroke-width="1"/>
<text x="30.6" y="131.7" font-size="12.4" text-anchor="end" fill="#000" color="#000">2</text>
<line x1="35.2" y1="107.2" x2="37.2" y2="107.2" stroke="#3a3a3a" stroke-width="1"/>
<line x1="201.2" y1="107.2" x2="203.2" y2="107.2" stroke="#3a3a3a" stroke-width="1"/>
<line x1="33.2" y1="86.9" x2="37.2" y2="86.9" stroke="#3a3a3a" stroke-width="1"/>
<line x1="200.2" y1="86.9" x2="203.2" y2="86.9" stroke="#3a3a3a" stroke-width="1"/>
<text x="30.6" y="91.2" font-size="12.4" text-anchor="end" fill="#000" color="#000">3</text>
<line x1="35.2" y1="66.7" x2="37.2" y2="66.7" stroke="#3a3a3a" stroke-width="1"/>
<line x1="201.2" y1="66.7" x2="203.2" y2="66.7" stroke="#3a3a3a" stroke-width="1"/>
<line x1="33.2" y1="46.4" x2="37.2" y2="46.4" stroke="#3a3a3a" stroke-width="1"/>
<line x1="200.2" y1="46.4" x2="203.2" y2="46.4" stroke="#3a3a3a" stroke-width="1"/>
<text x="30.6" y="50.7" font-size="12.4" text-anchor="end" fill="#000" color="#000">4</text>
<line x1="35.2" y1="26.2" x2="37.2" y2="26.2" stroke="#3a3a3a" stroke-width="1"/>
<line x1="201.2" y1="26.2" x2="203.2" y2="26.2" stroke="#3a3a3a" stroke-width="1"/>
<line x1="33.2" y1="5.9" x2="37.2" y2="5.9" stroke="#3a3a3a" stroke-width="1"/>
<line x1="200.2" y1="5.9" x2="203.2" y2="5.9" stroke="#3a3a3a" stroke-width="1"/>
<text x="30.6" y="10.2" font-size="12.4" text-anchor="end" fill="#000" color="#000">5</text>
<line x1="37.2" y1="208.5" x2="37.2" y2="212.5" stroke="#3a3a3a" stroke-width="1"/>
<text x="37.2" y="225.4" font-size="12.4" text-anchor="middle" fill="#000" color="#000">0</text>
<line x1="53.8" y1="208.5" x2="53.8" y2="210.5" stroke="#3a3a3a" stroke-width="1"/>
<line x1="70.3" y1="208.5" x2="70.3" y2="212.5" stroke="#3a3a3a" stroke-width="1"/>
<text x="70.3" y="225.4" font-size="12.4" text-anchor="middle" fill="#000" color="#000">1</text>
<line x1="86.9" y1="208.5" x2="86.9" y2="210.5" stroke="#3a3a3a" stroke-width="1"/>
<line x1="103.5" y1="208.5" x2="103.5" y2="212.5" stroke="#3a3a3a" stroke-width="1"/>
<text x="103.5" y="225.4" font-size="12.4" text-anchor="middle" fill="#000" color="#000">2</text>
<line x1="120.1" y1="208.5" x2="120.1" y2="210.5" stroke="#3a3a3a" stroke-width="1"/>
<line x1="136.6" y1="208.5" x2="136.6" y2="212.5" stroke="#3a3a3a" stroke-width="1"/>
<text x="136.6" y="225.4" font-size="12.4" text-anchor="middle" fill="#000" color="#000">3</text>
<line x1="153.2" y1="208.5" x2="153.2" y2="210.5" stroke="#3a3a3a" stroke-width="1"/>
<line x1="169.8" y1="208.5" x2="169.8" y2="212.5" stroke="#3a3a3a" stroke-width="1"/>
<text x="169.8" y="225.4" font-size="12.4" text-anchor="middle" fill="#000" color="#000">4</text>
<line x1="186.4" y1="208.5" x2="186.4" y2="210.5" stroke="#3a3a3a" stroke-width="1"/>
<line x1="202.9" y1="208.5" x2="202.9" y2="212.5" stroke="#3a3a3a" stroke-width="1"/>
<line x1="203.2" y1="208.5" x2="203.2" y2="212.5" stroke="#3a3a3a" stroke-width="1"/>
<text x="203.2" y="225.4" font-size="12.4" text-anchor="middle" fill="#000" color="#000">0</text>
<line x1="230.8" y1="208.5" x2="230.8" y2="210.5" stroke="#3a3a3a" stroke-width="1"/>
<line x1="258.3" y1="208.5" x2="258.3" y2="212.5" stroke="#3a3a3a" stroke-width="1"/>
<text x="258.3" y="225.4" font-size="12.4" text-anchor="middle" fill="#000" color="#000">1</text>
<line x1="285.9" y1="208.5" x2="285.9" y2="210.5" stroke="#3a3a3a" stroke-width="1"/>
<line x1="313.5" y1="208.5" x2="313.5" y2="212.5" stroke="#3a3a3a" stroke-width="1"/>
<text x="313.5" y="225.4" font-size="12.4" text-anchor="middle" fill="#000" color="#000">2</text>
<line x1="341.1" y1="208.5" x2="341.1" y2="210.5" stroke="#3a3a3a" stroke-width="1"/>
<line x1="368.6" y1="208.5" x2="368.6" y2="212.5" stroke="#3a3a3a" stroke-width="1"/>
<text x="368.6" y="225.4" font-size="12.4" text-anchor="middle" fill="#000" color="#000">3</text>
<text x="207.2" y="242.5" font-size="12.7" text-anchor="middle" fill="#000" color="#000">time [s]</text>
<text x="15.3" y="116" font-size="13.0" text-anchor="middle" fill="#000" color="#000" transform="rotate(-90 15.3 116)">ln(# intact bonds)</text>
<text x="1.2" y="13.2" font-size="13.8" text-anchor="start" fill="#000" color="#000" font-weight="bold">A</text>
<text x="145.7" y="24.5" font-size="16.4" text-anchor="start" fill="#000" color="#000" textLength="24.9" lengthAdjust="spacingAndGlyphs">HS</text>
<text x="147.2" y="39.3" font-size="10.7" text-anchor="start" fill="#000" color="#000">force [pN]</text>
<use href="#sq" x="150.4" y="48.5"/>
<text x="166.2" y="52.3" font-size="10.7" text-anchor="start" fill="#000" color="#000">10</text>
<use href="#ci" x="150.4" y="61.7"/>
<text x="166.2" y="65.5" font-size="10.7" text-anchor="start" fill="#000" color="#000">12.5</text>
<use href="#tr" x="150.4" y="74.8"/>
<text x="166.2" y="78.6" font-size="10.7" text-anchor="start" fill="#000" color="#000">15</text>
<use href="#st" x="150.4" y="88.2"/>
<text x="166.2" y="92" font-size="10.7" text-anchor="start" fill="#000" color="#000">17.5</text>
<text x="314.3" y="25" font-size="16.6" text-anchor="start" fill="#000" color="#000" textLength="53.4" lengthAdjust="spacingAndGlyphs">K5-NS</text>
<text x="316.2" y="40.2" font-size="10.7" text-anchor="start" fill="#000" color="#000">force [pN]</text>
<use href="#sq" x="319.4" y="49.9"/>
<text x="335.2" y="53.7" font-size="10.7" text-anchor="start" fill="#000" color="#000">10</text>
<use href="#ci" x="319.4" y="63.3"/>
<text x="335.2" y="67.1" font-size="10.7" text-anchor="start" fill="#000" color="#000">12.5</text>
<use href="#tr" x="319.4" y="76.6"/>
<text x="335.2" y="80.4" font-size="10.7" text-anchor="start" fill="#000" color="#000">15</text>
<use href="#st" x="319.4" y="90"/>
<text x="335.2" y="93.8" font-size="10.7" text-anchor="start" fill="#000" color="#000">20</text>
<g clip-path="url(#cB1)">
<polyline points="46.5,257.2 47.5,267.6 48.5,277.6 49.4,287.0 50.4,296.1 51.4,304.7 52.4,312.9 53.4,320.7 54.4,328.2 55.3,335.3 56.3,342.1 57.3,348.5 58.3,354.6 59.3,360.5 60.2,366.0 61.2,371.2 62.2,376.2 63.2,380.9 64.2,385.3 65.2,389.4 66.1,393.2 67.1,396.8 68.1,400.1 69.1,403.2 70.1,405.9 71.1,408.3 72.0,410.4 73.0,412.1 74.0,413.5 75.0,414.5 76.0,415.0 76.9,415.2 77.9,414.8 78.9,414.0 79.9,412.7 80.9,410.9 81.9,408.5 82.8,405.7 83.8,402.4 84.8,398.7 85.8,394.6 86.8,390.4 87.7,386.0 88.7,381.5 89.7,377.2 90.7,373.1 91.7,369.2 92.7,365.8 93.6,362.7 94.6,360.2 95.6,358.1 96.6,356.6 97.6,355.4 98.6,354.8 99.5,354.5 100.5,354.5 101.5,354.9 102.5,355.6 103.5,356.5 104.4,357.6 105.4,358.8 106.4,360.2 107.4,361.7 108.4,363.2 109.4,364.9 110.3,366.5 111.3,368.3 112.3,370.0 113.3,371.8 114.3,373.5 115.2,375.3 116.2,377.0 117.2,378.8 118.2,380.5 119.2,382.3 120.2,384.0 121.1,385.6 122.1,387.3 123.1,388.9 124.1,390.6 125.1,392.2 126.1,393.7 127.0,395.3 128.0,396.8 129.0,398.3 130.0,399.8 131.0,401.2 131.9,402.7 132.9,404.1 133.9,405.4 134.9,406.8 135.9,408.1 136.9,409.5 137.8,410.7 138.8,412.0 139.8,413.3 140.8,414.5 141.8,415.7 142.7,416.9 143.7,418.0 144.7,419.2 145.7,420.3 146.7,421.4 147.7,422.5 148.6,423.6 149.6,424.6 150.6,425.7 151.6,426.7 152.6,427.7 153.5,428.7 154.5,429.6 155.5,430.6 156.5,431.5 157.5,432.4 158.5,433.3 159.4,434.2 160.4,435.1 161.4,435.9 162.4,436.8 163.4,437.6 164.4,438.4 165.3,439.2 166.3,440.0 167.3,440.8 168.3,441.5 169.3,442.3 170.2,443.0 171.2,443.7 172.2,444.4 173.2,445.1 174.2,445.8 175.2,446.5 176.1,447.2 177.1,447.8 178.1,448.4 179.1,449.1 180.1,449.7 181.0,450.3 182.0,450.9 183.0,451.5 184.0,452.0 185.0,452.6 186.0,453.2 186.9,453.7 187.9,454.3 188.9,454.8 189.9,455.3 190.9,455.8 191.9,456.3 192.8,456.8 193.8,457.3 194.8,457.8 195.8,458.2 196.8,458.7 197.7,459.1 198.7,459.6 199.7,460.0 200.7,460.5 201.7,460.9 202.7,461.3 203.6,461.7" fill="none" stroke="#000" stroke-width="1.3"/>
<polyline points="46.5,257.3 47.5,267.7 48.5,277.6 49.4,287.1 50.4,296.2 51.4,304.8 52.4,313.1 53.4,321.0 54.4,328.5 55.3,335.6 56.3,342.5 57.3,349.0 58.3,355.2 59.3,361.2 60.2,366.9 61.2,372.3 62.2,377.4 63.2,382.4 64.2,387.1 65.2,391.6 66.1,395.8 67.1,399.9 68.1,403.8 69.1,407.6 70.1,411.1 71.1,414.5 72.0,417.7 73.0,420.8 74.0,423.8 75.0,426.6 76.0,429.3 76.9,431.8 77.9,434.3 78.9,436.6 79.9,438.8 80.9,440.9 81.9,443.0 82.8,444.9 83.8,446.7 84.8,448.5 85.8,450.2 86.8,451.8 87.7,453.3 88.7,454.8 89.7,456.2 90.7,457.5 91.7,458.7 92.7,460.0 93.6,461.1 94.6,462.2 95.6,463.3 96.6,464.3 97.6,465.2 98.6,466.1 99.5,467.0 100.5,467.8 101.5,468.6 102.5,469.4 103.5,470.1 104.4,470.8 105.4,471.5 106.4,472.1 107.4,472.7 108.4,473.3 109.4,473.8 110.3,474.3 111.3,474.8 112.3,475.3 113.3,475.8 114.3,476.2 115.2,476.6 116.2,477.0 117.2,477.4 118.2,477.7 119.2,478.1 120.2,478.4 121.1,478.7 122.1,479.0 123.1,479.3 124.1,479.6 125.1,479.8 126.1,480.1 127.0,480.3 128.0,480.5 129.0,480.7 130.0,480.9 131.0,481.1 131.9,481.3 132.9,481.5 133.9,481.7 134.9,481.8 135.9,482.0 136.9,482.1 137.8,482.3 138.8,482.4 139.8,482.5 140.8,482.7 141.8,482.8 142.7,482.9 143.7,483.0 144.7,483.1 145.7,483.2 146.7,483.3 147.7,483.4 148.6,483.4 149.6,483.5 150.6,483.6 151.6,483.7 152.6,483.7 153.5,483.8 154.5,483.9 155.5,483.9 156.5,484.0 157.5,484.1 158.5,484.1 159.4,484.2 160.4,484.2 161.4,484.2 162.4,484.3 163.4,484.3 164.4,484.4 165.3,484.4 166.3,484.4 167.3,484.5 168.3,484.5 169.3,484.5 170.2,484.6 171.2,484.6 172.2,484.6 173.2,484.7 174.2,484.7 175.2,484.7 176.1,484.7 177.1,484.7 178.1,484.8 179.1,484.8 180.1,484.8 181.0,484.8 182.0,484.8 183.0,484.9 184.0,484.9 185.0,484.9 186.0,484.9 186.9,484.9 187.9,484.9 188.9,484.9 189.9,485.0 190.9,485.0 191.9,485.0 192.8,485.0 193.8,485.0 194.8,485.0 195.8,485.0 196.8,485.0 197.7,485.0 198.7,485.0 199.7,485.0 200.7,485.1 201.7,485.1 202.7,485.1 203.6,485.1" fill="none" stroke="#dd3a3f" stroke-width="1.2" stroke-dasharray="5.5 3.8"/>
<polyline points="77.8,271.8 78.6,274.7 79.4,277.6 80.1,280.4 80.9,283.2 81.7,286.0 82.5,288.7 83.3,291.4 84.1,294.1 84.9,296.7 85.6,299.3 86.4,301.8 87.2,304.3 88.0,306.8 88.8,309.3 89.6,311.7 90.4,314.1 91.2,316.4 91.9,318.7 92.7,321.0 93.5,323.2 94.3,325.5 95.1,327.6 95.9,329.8 96.7,331.9 97.4,334.0 98.2,336.1 99.0,338.1 99.8,340.2 100.6,342.1 101.4,344.1 102.2,346.0 103.0,347.9 103.7,349.8 104.5,351.7 105.3,353.5 106.1,355.3 106.9,357.1 107.7,358.8 108.5,360.6 109.2,362.3 110.0,364.0 110.8,365.6 111.6,367.3 112.4,368.9 113.2,370.5 114.0,372.0 114.8,373.6 115.5,375.1 116.3,376.6 117.1,378.1 117.9,379.6 118.7,381.0 119.5,382.5 120.3,383.9 121.0,385.2 121.8,386.6 122.6,388.0 123.4,389.3 124.2,390.6 125.0,391.9 125.8,393.2 126.5,394.4 127.3,395.7 128.1,396.9 128.9,398.1 129.7,399.3 130.5,400.5 131.3,401.7 132.1,402.8 132.8,403.9 133.6,405.0 134.4,406.1 135.2,407.2 136.0,408.3 136.8,409.3 137.6,410.4 138.3,411.4 139.1,412.4 139.9,413.4 140.7,414.4 141.5,415.4 142.3,416.3 143.1,417.3 143.9,418.2 144.6,419.1 145.4,420.0 146.2,420.9 147.0,421.8 147.8,422.7 148.6,423.5 149.4,424.4 150.1,425.2 150.9,426.0 151.7,426.8 152.5,427.6 153.3,428.4 154.1,429.2 154.9,430.0 155.7,430.7 156.4,431.5 157.2,432.2 158.0,432.9 158.8,433.6 159.6,434.3 160.4,435.0 161.2,435.7 161.9,436.4 162.7,437.1 163.5,437.7 164.3,438.4 165.1,439.0 165.9,439.7 166.7,440.3 167.5,440.9 168.2,441.5 169.0,442.1 169.8,442.7 170.6,443.3 171.4,443.8 172.2,444.4 173.0,445.0 173.7,445.5 174.5,446.1 175.3,446.6 176.1,447.1 176.9,447.7 177.7,448.2 178.5,448.7 179.3,449.2 180.0,449.7 180.8,450.2 181.6,450.6 182.4,451.1 183.2,451.6 184.0,452.0 184.8,452.5 185.5,452.9 186.3,453.4 187.1,453.8 187.9,454.2 188.7,454.7 189.5,455.1 190.3,455.5 191.1,455.9 191.8,456.3 192.6,456.7 193.4,457.1 194.2,457.5 195.0,457.9 195.8,458.2 196.6,458.6 197.3,459.0 198.1,459.3 198.9,459.7 199.7,460.0 200.5,460.4 201.3,460.7 202.1,461.0 202.8,461.4 203.6,461.7" fill="none" stroke="#90e658" stroke-width="1.4" stroke-dasharray="4.5 5.5"/>
</g>
<g clip-path="url(#cB2)">
<polyline points="202.9,343.7 203.9,345.4 205.0,347.1 206.0,348.7 207.1,350.4 208.1,352.0 209.1,353.6 210.2,355.1 211.2,356.7 212.2,358.2 213.3,359.7 214.3,361.1 215.4,362.6 216.4,364.0 217.4,365.4 218.5,366.8 219.5,368.2 220.5,369.5 221.6,370.9 222.6,372.2 223.7,373.4 224.7,374.7 225.7,376.0 226.8,377.2 227.8,378.4 228.9,379.6 229.9,380.8 230.9,381.9 232.0,383.0 233.0,384.2 234.0,385.3 235.1,386.4 236.1,387.4 237.2,388.5 238.2,389.5 239.2,390.5 240.3,391.6 241.3,392.5 242.3,393.5 243.4,394.5 244.4,395.4 245.5,396.4 246.5,397.3 247.5,398.2 248.6,399.1 249.6,400.0 250.7,400.8 251.7,401.7 252.7,402.5 253.8,403.3 254.8,404.2 255.8,405.0 256.9,405.8 257.9,406.5 259.0,407.3 260.0,408.1 261.0,408.8 262.1,409.5 263.1,410.3 264.1,411.0 265.2,411.7 266.2,412.4 267.3,413.0 268.3,413.7 269.3,414.4 270.4,415.0 271.4,415.6 272.5,416.3 273.5,416.9 274.5,417.5 275.6,418.1 276.6,418.7 277.6,419.3 278.7,419.9 279.7,420.4 280.8,421.0 281.8,421.5 282.8,422.1 283.9,422.6 284.9,423.1 285.9,423.6 287.0,424.2 288.0,424.7 289.1,425.2 290.1,425.6 291.1,426.1 292.2,426.6 293.2,427.1 294.3,427.5 295.3,428.0 296.3,428.4 297.4,428.8 298.4,429.3 299.4,429.7 300.5,430.1 301.5,430.5 302.6,430.9 303.6,431.3 304.6,431.7 305.7,432.1 306.7,432.5 307.8,432.9 308.8,433.2 309.8,433.6 310.9,434.0 311.9,434.3 312.9,434.7 314.0,435.0 315.0,435.3 316.1,435.7 317.1,436.0 318.1,436.3 319.2,436.6 320.2,437.0 321.2,437.3 322.3,437.6 323.3,437.9 324.4,438.2 325.4,438.5 326.4,438.7 327.5,439.0 328.5,439.3 329.6,439.6 330.6,439.8 331.6,440.1 332.7,440.4 333.7,440.6 334.7,440.9 335.8,441.1 336.8,441.4 337.9,441.6 338.9,441.9 339.9,442.1 341.0,442.3 342.0,442.5 343.0,442.8 344.1,443.0 345.1,443.2 346.2,443.4 347.2,443.6 348.2,443.8 349.3,444.0 350.3,444.3 351.4,444.4 352.4,444.6 353.4,444.8 354.5,445.0 355.5,445.2 356.5,445.4 357.6,445.6 358.6,445.8 359.7,445.9 360.7,446.1 361.7,446.3 362.8,446.4 363.8,446.6 364.8,446.8 365.9,446.9 366.9,447.1 368.0,447.2 369.0,447.4" fill="none" stroke="#000" stroke-width="1.3"/>
</g>
<path d="M64.8 376V406.2M62.7 376h4.2M62.7 406.2h4.2" stroke="#8c8c8c" stroke-width="1" fill="none"/>
<rect x="62.8" y="389.4" width="4.1" height="4.1" fill="#000"/>
<path d="M73.9 419V432.3M71.8 419h4.2M71.8 432.3h4.2" stroke="#8c8c8c" stroke-width="1" fill="none"/>
<rect x="71.9" y="423.8" width="4.1" height="4.1" fill="#000"/>
<path d="M83.4 405.8V426.4M81.3 405.8h4.2M81.3 426.4h4.2" stroke="#8c8c8c" stroke-width="1" fill="none"/>
<rect x="81.4" y="414" width="4.1" height="4.1" fill="#000"/>
<path d="M92.6 362.7V383.2M90.5 362.7h4.2M90.5 383.2h4.2" stroke="#8c8c8c" stroke-width="1" fill="none"/>
<rect x="90.5" y="371.4" width="4.1" height="4.1" fill="#000"/>
<path d="M101.6 324.7V363.1M99.5 324.7h4.2M99.5 363.1h4.2" stroke="#8c8c8c" stroke-width="1" fill="none"/>
<rect x="99.5" y="342.2" width="4.1" height="4.1" fill="#000"/>
<path d="M110.9 393.8V417.2M108.8 393.8h4.2M108.8 417.2h4.2" stroke="#8c8c8c" stroke-width="1" fill="none"/>
<rect x="108.9" y="403.6" width="4.1" height="4.1" fill="#000"/>
<path d="M129.1 393.3V411M127 393.3h4.2M127 411h4.2" stroke="#8c8c8c" stroke-width="1" fill="none"/>
<rect x="127" y="400.6" width="4.1" height="4.1" fill="#000"/>
<path d="M147.5 412.5V426.2M145.4 412.5h4.2M145.4 426.2h4.2" stroke="#8c8c8c" stroke-width="1" fill="none"/>
<rect x="145.4" y="417.8" width="4.1" height="4.1" fill="#000"/>
<path d="M166.2 437V447.2M164.1 437h4.2M164.1 447.2h4.2" stroke="#8c8c8c" stroke-width="1" fill="none"/>
<rect x="164.1" y="440" width="4.1" height="4.1" fill="#000"/>
<path d="M184.2 432V443.4M182.1 432h4.2M182.1 443.4h4.2" stroke="#8c8c8c" stroke-width="1" fill="none"/>
<rect x="182.1" y="436" width="4.1" height="4.1" fill="#000"/>
<path d="M243.6 382.2V405.2M241.5 382.2h4.2M241.5 405.2h4.2" stroke="#8c8c8c" stroke-width="1" fill="none"/>
<rect x="241.5" y="392" width="4.1" height="4.1" fill="#000"/>
<path d="M257.5 391.2V411.7M255.4 391.2h4.2M255.4 411.7h4.2" stroke="#8c8c8c" stroke-width="1" fill="none"/>
<rect x="255.4" y="399.8" width="4.1" height="4.1" fill="#000"/>
<path d="M271.4 429.4V439.7M269.3 429.4h4.2M269.3 439.7h4.2" stroke="#8c8c8c" stroke-width="1" fill="none"/>
<rect x="269.3" y="432.9" width="4.1" height="4.1" fill="#000"/>
<path d="M285 431V441.5M282.9 431h4.2M282.9 441.5h4.2" stroke="#8c8c8c" stroke-width="1" fill="none"/>
<rect x="282.9" y="434.8" width="4.1" height="4.1" fill="#000"/>
<path d="M298.9 412.6V430.3M296.8 412.6h4.2M296.8 430.3h4.2" stroke="#8c8c8c" stroke-width="1" fill="none"/>
<rect x="296.8" y="419.9" width="4.1" height="4.1" fill="#000"/>
<path d="M312.9 427V444.3M310.8 427h4.2M310.8 444.3h4.2" stroke="#8c8c8c" stroke-width="1" fill="none"/>
<rect x="310.8" y="433.9" width="4.1" height="4.1" fill="#000"/>
<path d="M340 424.7V440.1M337.9 424.7h4.2M337.9 440.1h4.2" stroke="#8c8c8c" stroke-width="1" fill="none"/>
<rect x="337.9" y="430.1" width="4.1" height="4.1" fill="#000"/>
<g>
<polyline points="125.8,288.4 126.1,288.4 126.5,288.4 126.8,288.4 127.2,288.4 127.5,288.4 127.9,288.4 128.2,288.4 128.5,288.4 128.9,288.4 129.2,288.4 129.6,288.4 129.9,288.4 130.3,288.4 130.6,288.4 130.9,288.4 131.3,288.4 131.6,288.4 132.0,288.4 132.3,288.4 132.7,288.4 133.0,288.4 133.3,288.4 133.7,288.4 134.0,288.4 134.4,288.4 134.7,288.4 135.1,288.4 135.4,288.4 135.7,288.4 136.1,288.4 136.4,288.4 136.8,288.4 137.1,288.4 137.5,288.5 137.8,288.5 138.1,288.5 138.5,288.5 138.8,288.5 139.2,288.5 139.5,288.5 139.9,288.5 140.2,288.5 140.5,288.5 140.9,288.5 141.2,288.5 141.6,288.5 141.9,288.6 142.3,288.6 142.6,288.6 142.9,288.6 143.3,288.6 143.6,288.6 144.0,288.7 144.3,288.7 144.7,288.7 145.0,288.7 145.4,288.8 145.7,288.8 146.0,288.8 146.4,288.9 146.7,288.9 147.1,288.9 147.4,289.0 147.8,289.0 148.1,289.1 148.4,289.2 148.8,289.2 149.1,289.3 149.5,289.4 149.8,289.5 150.2,289.5 150.5,289.6 150.8,289.7 151.2,289.9 151.5,290.0 151.9,290.1 152.2,290.3 152.6,290.4 152.9,290.6 153.2,290.8 153.6,291.0 153.9,291.2 154.3,291.4 154.6,291.6 155.0,291.9 155.3,292.2 155.6,292.5 156.0,292.8 156.3,293.1 156.7,293.5 157.0,293.9 157.4,294.3 157.7,294.8 158.0,295.3 158.4,295.8 158.7,296.3 159.1,296.9 159.4,297.5 159.8,298.1 160.1,298.8 160.4,299.5 160.8,300.2 161.1,301.0 161.5,301.8 161.8,302.6 162.2,303.5 162.5,304.4 162.8,305.3 163.2,306.2 163.5,307.2 163.9,308.2 164.2,309.2 164.6,310.2 164.9,311.2 165.2,312.3 165.6,313.3 165.9,314.3 166.3,315.4 166.6,316.4 167.0,317.4 167.3,318.4 167.6,319.4 168.0,320.4 168.3,321.3 168.7,322.2 169.0,323.1 169.4,324.0 169.7,324.8 170.0,325.6 170.4,326.4 170.7,327.1 171.1,327.8 171.4,328.5 171.8,329.1 172.1,329.7 172.4,330.3 172.8,330.8 173.1,331.3 173.5,331.8 173.8,332.3 174.2,332.7 174.5,333.1 174.8,333.5 175.2,333.8 175.5,334.1 175.9,334.4 176.2,334.7 176.6,335.0 176.9,335.2 177.2,335.4 177.6,335.6 177.9,335.8 178.3,336.0 178.6,336.2 179.0,336.3 179.3,336.5 179.7,336.6 180.0,336.7 180.3,336.9 180.7,337.0 181.0,337.1 181.4,337.1 181.7,337.2 182.1,337.3 182.4,337.4 182.7,337.4 183.1,337.5 183.4,337.6 183.8,337.6 184.1,337.7 184.5,337.7 184.8,337.7 185.1,337.8 185.5,337.8 185.8,337.8 186.2,337.9 186.5,337.9 186.9,337.9 187.2,337.9 187.5,338.0 187.9,338.0 188.2,338.0 188.6,338.0 188.9,338.0 189.3,338.0 189.6,338.1 189.9,338.1 190.3,338.1 190.6,338.1 191.0,338.1 191.3,338.1 191.7,338.1 192.0,338.1 192.3,338.1 192.7,338.1 193.0,338.1 193.4,338.1 193.7,338.1 194.1,338.2 194.4,338.2 194.7,338.2 195.1,338.2 195.4,338.2 195.8,338.2 196.1,338.2 196.5,338.2 196.8,338.2 197.1,338.2 197.5,338.2 197.8,338.2 198.2,338.2 198.5,338.2 198.9,338.2 199.2,338.2 199.5,338.2 199.9,338.2 200.2,338.2 200.6,338.2 200.9,338.2 201.3,338.2" fill="none" stroke="#c8373c" stroke-width="1"/>
<polyline points="125.8,338.2 126.1,338.2 126.5,338.2 126.8,338.2 127.2,338.2 127.5,338.2 127.9,338.2 128.2,338.2 128.5,338.2 128.9,338.2 129.2,338.2 129.6,338.2 129.9,338.2 130.3,338.2 130.6,338.2 130.9,338.2 131.3,338.2 131.6,338.2 132.0,338.2 132.3,338.2 132.7,338.2 133.0,338.2 133.3,338.2 133.7,338.2 134.0,338.2 134.4,338.2 134.7,338.2 135.1,338.2 135.4,338.2 135.7,338.2 136.1,338.2 136.4,338.2 136.8,338.2 137.1,338.2 137.5,338.1 137.8,338.1 138.1,338.1 138.5,338.1 138.8,338.1 139.2,338.1 139.5,338.1 139.9,338.1 140.2,338.1 140.5,338.1 140.9,338.1 141.2,338.1 141.6,338.1 141.9,338.0 142.3,338.0 142.6,338.0 142.9,338.0 143.3,338.0 143.6,338.0 144.0,337.9 144.3,337.9 144.7,337.9 145.0,337.9 145.4,337.8 145.7,337.8 146.0,337.8 146.4,337.7 146.7,337.7 147.1,337.7 147.4,337.6 147.8,337.6 148.1,337.5 148.4,337.4 148.8,337.4 149.1,337.3 149.5,337.2 149.8,337.1 150.2,337.1 150.5,337.0 150.8,336.9 151.2,336.7 151.5,336.6 151.9,336.5 152.2,336.3 152.6,336.2 152.9,336.0 153.2,335.8 153.6,335.6 153.9,335.4 154.3,335.2 154.6,335.0 155.0,334.7 155.3,334.4 155.6,334.1 156.0,333.8 156.3,333.5 156.7,333.1 157.0,332.7 157.4,332.3 157.7,331.8 158.0,331.3 158.4,330.8 158.7,330.3 159.1,329.7 159.4,329.1 159.8,328.5 160.1,327.8 160.4,327.1 160.8,326.4 161.1,325.6 161.5,324.8 161.8,324.0 162.2,323.1 162.5,322.2 162.8,321.3 163.2,320.4 163.5,319.4 163.9,318.4 164.2,317.4 164.6,316.4 164.9,315.4 165.2,314.3 165.6,313.3 165.9,312.3 166.3,311.2 166.6,310.2 167.0,309.2 167.3,308.2 167.6,307.2 168.0,306.2 168.3,305.3 168.7,304.4 169.0,303.5 169.4,302.6 169.7,301.8 170.0,301.0 170.4,300.2 170.7,299.5 171.1,298.8 171.4,298.1 171.8,297.5 172.1,296.9 172.4,296.3 172.8,295.8 173.1,295.3 173.5,294.8 173.8,294.3 174.2,293.9 174.5,293.5 174.8,293.1 175.2,292.8 175.5,292.5 175.9,292.2 176.2,291.9 176.6,291.6 176.9,291.4 177.2,291.2 177.6,291.0 177.9,290.8 178.3,290.6 178.6,290.4 179.0,290.3 179.3,290.1 179.7,290.0 180.0,289.9 180.3,289.7 180.7,289.6 181.0,289.5 181.4,289.5 181.7,289.4 182.1,289.3 182.4,289.2 182.7,289.2 183.1,289.1 183.4,289.0 183.8,289.0 184.1,288.9 184.5,288.9 184.8,288.9 185.1,288.8 185.5,288.8 185.8,288.8 186.2,288.7 186.5,288.7 186.9,288.7 187.2,288.7 187.5,288.6 187.9,288.6 188.2,288.6 188.6,288.6 188.9,288.6 189.3,288.6 189.6,288.5 189.9,288.5 190.3,288.5 190.6,288.5 191.0,288.5 191.3,288.5 191.7,288.5 192.0,288.5 192.3,288.5 192.7,288.5 193.0,288.5 193.4,288.5 193.7,288.5 194.1,288.4 194.4,288.4 194.7,288.4 195.1,288.4 195.4,288.4 195.8,288.4 196.1,288.4 196.5,288.4 196.8,288.4 197.1,288.4 197.5,288.4 197.8,288.4 198.2,288.4 198.5,288.4 198.9,288.4 199.2,288.4 199.5,288.4 199.9,288.4 200.2,288.4 200.6,288.4 200.9,288.4 201.3,288.4" fill="none" stroke="#8ee84a" stroke-width="1"/>
</g>
<line x1="125.6" y1="284" x2="125.6" y2="338.3" stroke="#3a3a3a" stroke-width="1"/>
<line x1="125.6" y1="338.3" x2="202.9" y2="338.3" stroke="#3a3a3a" stroke-width="1"/>
<line x1="123.6" y1="338.2" x2="125.6" y2="338.2" stroke="#555" stroke-width="0.9"/>
<line x1="124.4" y1="325.8" x2="125.6" y2="325.8" stroke="#555" stroke-width="0.9"/>
<line x1="123.6" y1="313.3" x2="125.6" y2="313.3" stroke="#555" stroke-width="0.9"/>
<line x1="124.4" y1="300.9" x2="125.6" y2="300.9" stroke="#555" stroke-width="0.9"/>
<line x1="123.6" y1="288.4" x2="125.6" y2="288.4" stroke="#555" stroke-width="0.9"/>
<line x1="125.8" y1="338.3" x2="125.8" y2="340.3" stroke="#555" stroke-width="0.9"/>
<line x1="142.9" y1="338.3" x2="142.9" y2="339.5" stroke="#555" stroke-width="0.9"/>
<line x1="160.1" y1="338.3" x2="160.1" y2="340.3" stroke="#555" stroke-width="0.9"/>
<line x1="177.2" y1="338.3" x2="177.2" y2="339.5" stroke="#555" stroke-width="0.9"/>
<line x1="194.4" y1="338.3" x2="194.4" y2="340.3" stroke="#555" stroke-width="0.9"/>
<text x="124.2" y="291.3" font-size="8.1" text-anchor="end" fill="#000" color="#000">1,0</text>
<text x="124.2" y="316.2" font-size="8.1" text-anchor="end" fill="#000" color="#000">0,5</text>
<text x="124.2" y="341.1" font-size="8.1" text-anchor="end" fill="#000" color="#000">0,0</text>
<text x="125.8" y="346.6" font-size="8.1" text-anchor="middle" fill="#000" color="#000">0</text>
<text x="160.1" y="346.6" font-size="8.1" text-anchor="middle" fill="#000" color="#000">10</text>
<text x="194.4" y="346.6" font-size="8.1" text-anchor="middle" fill="#000" color="#000">20</text>
<text x="165.4" y="355.5" font-size="8.2" text-anchor="middle" fill="#000" color="#000">force [pN]</text>
<text x="111.2" y="310.7" font-size="8.2" text-anchor="middle" fill="#000" color="#000" transform="rotate(-90 111.2 310.7)">population</text>
<text x="133.6" y="300" font-size="8.6" fill="#c8373c" color="#c8373c">p<tspan font-size="5.6" dy="1.6">1</tspan><tspan dy="-1.6">(f)</tspan></text>
<text x="136.4" y="333.6" font-size="8.6" fill="#8ee84a" color="#8ee84a">p<tspan font-size="5.6" dy="1.6">2</tspan><tspan dy="-1.6">(f)</tspan></text>
<text x="55" y="296.4" font-size="11.6" fill="#d43a40" color="#d43a40">S<tspan font-size="6" dy="3.2">1</tspan></text>
<text x="87" y="296.4" font-size="11.6" fill="#86e04a" color="#86e04a">S<tspan font-size="6" dy="3.2">2</tspan></text>
<line x1="33.5" y1="281.6" x2="368.2" y2="281.6" stroke="#555" stroke-width="1"/>
<line x1="367.9" y1="281.6" x2="367.9" y2="485.3" stroke="#5a5a5a" stroke-width="1.2"/>
<line x1="37.5" y1="282" x2="37.5" y2="489.3" stroke="#3a3a3a" stroke-width="1.1"/>
<line x1="202.9" y1="282" x2="202.9" y2="489.3" stroke="#3a3a3a" stroke-width="1.1"/>
<line x1="33.5" y1="485.3" x2="368" y2="485.3" stroke="#3a3a3a" stroke-width="1.1"/>
<line x1="33.5" y1="485.2" x2="37.5" y2="485.2" stroke="#3a3a3a" stroke-width="1"/>
<line x1="199.9" y1="485.2" x2="202.9" y2="485.2" stroke="#3a3a3a" stroke-width="1"/>
<text x="30.6" y="488.8" font-size="12.0" text-anchor="end" fill="#000" color="#000">0,0</text>
<line x1="35.5" y1="468.2" x2="37.5" y2="468.2" stroke="#3a3a3a" stroke-width="1"/>
<line x1="201.3" y1="468.2" x2="202.9" y2="468.2" stroke="#3a3a3a" stroke-width="1"/>
<line x1="33.5" y1="451.3" x2="37.5" y2="451.3" stroke="#3a3a3a" stroke-width="1"/>
<line x1="199.9" y1="451.3" x2="202.9" y2="451.3" stroke="#3a3a3a" stroke-width="1"/>
<text x="30.6" y="454.9" font-size="12.0" text-anchor="end" fill="#000" color="#000">0,2</text>
<line x1="35.5" y1="434.3" x2="37.5" y2="434.3" stroke="#3a3a3a" stroke-width="1"/>
<line x1="201.3" y1="434.3" x2="202.9" y2="434.3" stroke="#3a3a3a" stroke-width="1"/>
<line x1="33.5" y1="417.4" x2="37.5" y2="417.4" stroke="#3a3a3a" stroke-width="1"/>
<line x1="199.9" y1="417.4" x2="202.9" y2="417.4" stroke="#3a3a3a" stroke-width="1"/>
<text x="30.6" y="421" font-size="12.0" text-anchor="end" fill="#000" color="#000">0,4</text>
<line x1="35.5" y1="400.4" x2="37.5" y2="400.4" stroke="#3a3a3a" stroke-width="1"/>
<line x1="201.3" y1="400.4" x2="202.9" y2="400.4" stroke="#3a3a3a" stroke-width="1"/>
<line x1="33.5" y1="383.5" x2="37.5" y2="383.5" stroke="#3a3a3a" stroke-width="1"/>
<line x1="199.9" y1="383.5" x2="202.9" y2="383.5" stroke="#3a3a3a" stroke-width="1"/>
<text x="30.6" y="387.1" font-size="12.0" text-anchor="end" fill="#000" color="#000">0,6</text>
<line x1="35.5" y1="366.5" x2="37.5" y2="366.5" stroke="#3a3a3a" stroke-width="1"/>
<line x1="201.3" y1="366.5" x2="202.9" y2="366.5" stroke="#3a3a3a" stroke-width="1"/>
<line x1="33.5" y1="349.6" x2="37.5" y2="349.6" stroke="#3a3a3a" stroke-width="1"/>
<line x1="199.9" y1="349.6" x2="202.9" y2="349.6" stroke="#3a3a3a" stroke-width="1"/>
<text x="30.6" y="353.2" font-size="12.0" text-anchor="end" fill="#000" color="#000">0,8</text>
<line x1="35.5" y1="332.6" x2="37.5" y2="332.6" stroke="#3a3a3a" stroke-width="1"/>
<line x1="201.3" y1="332.6" x2="202.9" y2="332.6" stroke="#3a3a3a" stroke-width="1"/>
<line x1="33.5" y1="315.7" x2="37.5" y2="315.7" stroke="#3a3a3a" stroke-width="1"/>
<line x1="199.9" y1="315.7" x2="202.9" y2="315.7" stroke="#3a3a3a" stroke-width="1"/>
<text x="30.6" y="319.3" font-size="12.0" text-anchor="end" fill="#000" color="#000">1,0</text>
<line x1="35.5" y1="298.8" x2="37.5" y2="298.8" stroke="#3a3a3a" stroke-width="1"/>
<line x1="201.3" y1="298.8" x2="202.9" y2="298.8" stroke="#3a3a3a" stroke-width="1"/>
<line x1="33.5" y1="282" x2="37.5" y2="282" stroke="#3a3a3a" stroke-width="1"/>
<line x1="199.9" y1="282" x2="202.9" y2="282" stroke="#3a3a3a" stroke-width="1"/>
<text x="30.6" y="285.6" font-size="12.0" text-anchor="end" fill="#000" color="#000">1,2</text>
<line x1="37.3" y1="485.3" x2="37.3" y2="489.3" stroke="#3a3a3a" stroke-width="1"/>
<text x="37.3" y="501.8" font-size="12.4" text-anchor="middle" fill="#000" color="#000">0</text>
<line x1="55.7" y1="485.3" x2="55.7" y2="487.3" stroke="#3a3a3a" stroke-width="1"/>
<line x1="74.1" y1="485.3" x2="74.1" y2="489.3" stroke="#3a3a3a" stroke-width="1"/>
<text x="74.1" y="501.8" font-size="12.4" text-anchor="middle" fill="#000" color="#000">10</text>
<line x1="92.5" y1="485.3" x2="92.5" y2="487.3" stroke="#3a3a3a" stroke-width="1"/>
<line x1="110.9" y1="485.3" x2="110.9" y2="489.3" stroke="#3a3a3a" stroke-width="1"/>
<text x="110.9" y="501.8" font-size="12.4" text-anchor="middle" fill="#000" color="#000">20</text>
<line x1="129.3" y1="485.3" x2="129.3" y2="487.3" stroke="#3a3a3a" stroke-width="1"/>
<line x1="147.7" y1="485.3" x2="147.7" y2="489.3" stroke="#3a3a3a" stroke-width="1"/>
<text x="147.7" y="501.8" font-size="12.4" text-anchor="middle" fill="#000" color="#000">30</text>
<line x1="166.1" y1="485.3" x2="166.1" y2="487.3" stroke="#3a3a3a" stroke-width="1"/>
<line x1="184.5" y1="485.3" x2="184.5" y2="489.3" stroke="#3a3a3a" stroke-width="1"/>
<text x="184.5" y="501.8" font-size="12.4" text-anchor="middle" fill="#000" color="#000">40</text>
<line x1="202.9" y1="485.3" x2="202.9" y2="487.3" stroke="#3a3a3a" stroke-width="1"/>
<line x1="202.9" y1="485.3" x2="202.9" y2="489.3" stroke="#3a3a3a" stroke-width="1"/>
<text x="202.9" y="501.8" font-size="12.4" text-anchor="middle" fill="#000" color="#000">0</text>
<line x1="230.4" y1="485.3" x2="230.4" y2="487.3" stroke="#3a3a3a" stroke-width="1"/>
<line x1="257.9" y1="485.3" x2="257.9" y2="489.3" stroke="#3a3a3a" stroke-width="1"/>
<text x="257.9" y="501.8" font-size="12.4" text-anchor="middle" fill="#000" color="#000">10</text>
<line x1="285.4" y1="485.3" x2="285.4" y2="487.3" stroke="#3a3a3a" stroke-width="1"/>
<line x1="312.9" y1="485.3" x2="312.9" y2="489.3" stroke="#3a3a3a" stroke-width="1"/>
<text x="312.9" y="501.8" font-size="12.4" text-anchor="middle" fill="#000" color="#000">20</text>
<line x1="340.4" y1="485.3" x2="340.4" y2="487.3" stroke="#3a3a3a" stroke-width="1"/>
<line x1="367.9" y1="485.3" x2="367.9" y2="489.3" stroke="#3a3a3a" stroke-width="1"/>
<text x="367.9" y="501.8" font-size="12.4" text-anchor="middle" fill="#000" color="#000">30</text>
<text x="201" y="525.8" font-size="12.7" text-anchor="middle" fill="#000" color="#000">force [pN]</text>
<text x="10.6" y="392" font-size="12.8" text-anchor="middle" fill="#000" color="#000" transform="rotate(-90 10.6 392)">lifetime [s]</text>
<text x="1" y="278.8" font-size="13.4" text-anchor="start" fill="#000" color="#000" font-weight="bold">B</text>
<text x="38.6" y="478.4" font-size="17" text-anchor="start" fill="#000" color="#000" textLength="26.1" lengthAdjust="spacingAndGlyphs">HS</text>
<text x="204.3" y="479.9" font-size="17" text-anchor="start" fill="#000" color="#000" textLength="54.1" lengthAdjust="spacingAndGlyphs">K5-NS</text>
</svg></body></html>
